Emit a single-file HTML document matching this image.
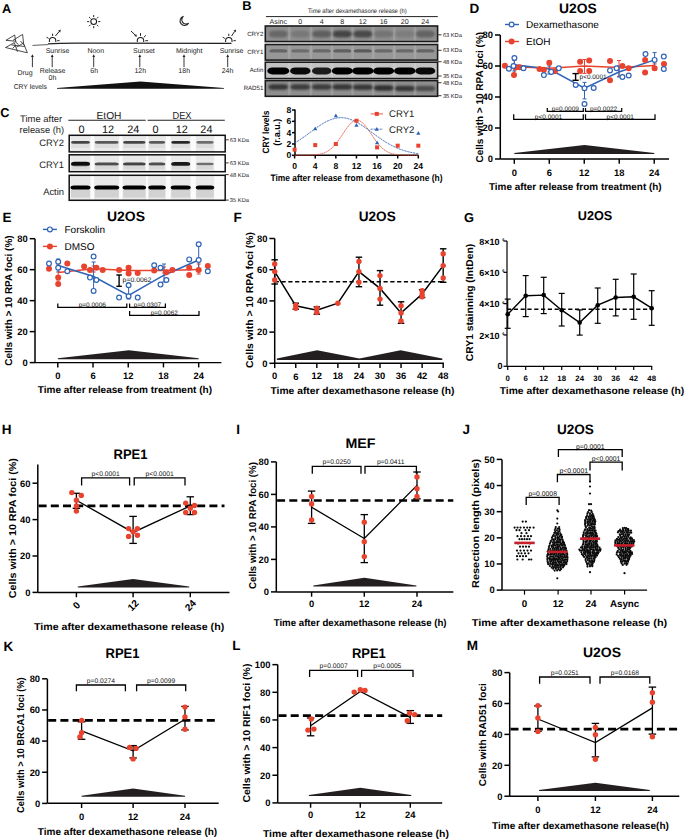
<!DOCTYPE html>
<html><head><meta charset="utf-8"><style>
html,body{margin:0;padding:0;background:#fff;width:685px;height:840px;overflow:hidden}
svg{display:block}
text{font-family:"Liberation Sans", sans-serif;text-rendering:geometricPrecision}
</style></head><body>
<svg width="685" height="840" viewBox="0 0 685 840">
<g stroke="none" fill="#000"><rect x="0" y="0" width="685" height="840" fill="#fff"/></g>
<text x="2.1" y="13.18" font-size="12.8" font-weight="bold">A</text>
<polyline points="5.9,40.3 14.7,35 15.6,41" fill="none" stroke="#2a2a2a" stroke-width="0.85" stroke-linejoin="round"/>
<polyline points="5.9,40.3 16.5,41.3" fill="none" stroke="#2a2a2a" stroke-width="0.85" stroke-linejoin="round"/>
<polyline points="13,40.3 22.6,34.4 23.6,43.5 27.4,52.8" fill="none" stroke="#2a2a2a" stroke-width="0.85" stroke-linejoin="round"/>
<polyline points="5.5,47.5 14.3,42.7 17.5,51.8" fill="none" stroke="#2a2a2a" stroke-width="0.85" stroke-linejoin="round"/>
<polyline points="5.5,47.5 27.4,52.8" fill="none" stroke="#2a2a2a" stroke-width="0.85" stroke-linejoin="round"/>
<polyline points="11.5,45 24.8,46.5" fill="none" stroke="#2a2a2a" stroke-width="0.85" stroke-linejoin="round"/>
<polyline points="16.5,47.2 23.8,42.8" fill="none" stroke="#2a2a2a" stroke-width="0.85" stroke-linejoin="round"/>
<polyline points="15,41.5 18.5,44.5" fill="none" stroke="#2a2a2a" stroke-width="0.85" stroke-linejoin="round"/>
<polyline points="20.5,41 24.5,45.5" fill="none" stroke="#2a2a2a" stroke-width="0.85" stroke-linejoin="round"/>
<polyline points="12.5,48.5 15.5,45.5" fill="none" stroke="#2a2a2a" stroke-width="0.85" stroke-linejoin="round"/>
<path d="M32.5,45.4 L48,44.6" fill="none" stroke="#333" stroke-width="0.8"/>
<path d="M48,43.9 Q60,43.1 80,43.2 L231.5,43.3" fill="none" stroke="#222" stroke-width="1.2"/>
<path d="M49.4,42 L49.4,40.7 A3.2,3.2 0 0 1 55.8,40.7 L55.8,42" fill="none" stroke="#1a1a1a" stroke-width="1.05"/>
<line x1="48.62" y1="38.4" x2="46.54" y2="37.2" stroke="#222" stroke-width="1"/>
<line x1="52.6" y1="36.1" x2="52.6" y2="33.7" stroke="#222" stroke-width="1"/>
<line x1="57.2" y1="40.7" x2="59.6" y2="40.7" stroke="#222" stroke-width="1"/>
<line x1="55.4" y1="36" x2="59.12" y2="31.59" stroke="#222" stroke-width="1"/>
<polygon points="60.8,29.6 60.19,32.49 58.05,30.68" fill="#222"/>
<path d="M137.3,42 L137.3,40.7 A3.2,3.2 0 0 1 143.7,40.7 L143.7,42" fill="none" stroke="#1a1a1a" stroke-width="1.05"/>
<line x1="140.5" y1="35.9" x2="140.5" y2="33.1" stroke="#222" stroke-width="1"/>
<line x1="143.89" y1="37.31" x2="145.87" y2="35.33" stroke="#222" stroke-width="1"/>
<line x1="145.3" y1="40.7" x2="148.1" y2="40.7" stroke="#222" stroke-width="1"/>
<line x1="131" y1="31" x2="135.13" y2="34.99" stroke="#222" stroke-width="1"/>
<polygon points="137,36.8 134.16,36 136.1,33.99" fill="#222"/>
<path d="M225.6,42 L225.6,40.7 A3.2,3.2 0 0 1 232,40.7 L232,42" fill="none" stroke="#1a1a1a" stroke-width="1.05"/>
<line x1="224.82" y1="38.4" x2="222.74" y2="37.2" stroke="#222" stroke-width="1"/>
<line x1="228.8" y1="36.1" x2="228.8" y2="33.7" stroke="#222" stroke-width="1"/>
<line x1="233.4" y1="40.7" x2="235.8" y2="40.7" stroke="#222" stroke-width="1"/>
<line x1="231.6" y1="36" x2="234.56" y2="31.56" stroke="#222" stroke-width="1"/>
<polygon points="236,29.4 235.72,32.34 233.39,30.79" fill="#222"/>
<circle cx="93.7" cy="21.6" r="2.9" fill="none" stroke="#1a1a1a" stroke-width="1.05"/>
<line x1="98.2" y1="21.6" x2="100.3" y2="21.6" stroke="#222" stroke-width="1"/>
<line x1="96.88" y1="18.42" x2="98.37" y2="16.93" stroke="#222" stroke-width="1"/>
<line x1="93.7" y1="17.1" x2="93.7" y2="15" stroke="#222" stroke-width="1"/>
<line x1="90.52" y1="18.42" x2="89.03" y2="16.93" stroke="#222" stroke-width="1"/>
<line x1="89.2" y1="21.6" x2="87.1" y2="21.6" stroke="#222" stroke-width="1"/>
<line x1="90.52" y1="24.78" x2="89.03" y2="26.27" stroke="#222" stroke-width="1"/>
<line x1="93.7" y1="26.1" x2="93.7" y2="28.2" stroke="#222" stroke-width="1"/>
<line x1="96.88" y1="24.78" x2="98.37" y2="26.27" stroke="#222" stroke-width="1"/>
<path d="M183.5,16.4 A4.6,4.6 0 1 0 188.6,23.2 A3.6,3.6 0 0 1 183.5,16.4 Z" fill="none" stroke="#222" stroke-width="1.1"/>
<text x="57.5" y="53.21" font-size="7" text-anchor="middle" fill="#1c1c1c">Sunrise</text>
<text x="95.8" y="53.21" font-size="7" text-anchor="middle" fill="#1c1c1c">Noon</text>
<text x="143.9" y="53.21" font-size="7" text-anchor="middle" fill="#1c1c1c">Sunset</text>
<text x="189.2" y="53.21" font-size="7" text-anchor="middle" fill="#1c1c1c">Midnight</text>
<text x="231.5" y="53.21" font-size="7" text-anchor="middle" fill="#1c1c1c">Sunrise</text>
<line x1="32.4" y1="67.2" x2="32.4" y2="56.5" stroke="#222" stroke-width="0.9"/>
<polygon points="32.4,54.3 31,57.1 33.8,57.1" fill="#222"/>
<line x1="52.2" y1="67.2" x2="52.2" y2="56.5" stroke="#222" stroke-width="0.9"/>
<polygon points="52.2,54.3 50.8,57.1 53.6,57.1" fill="#222"/>
<line x1="93.7" y1="67.2" x2="93.7" y2="56.5" stroke="#222" stroke-width="0.9"/>
<polygon points="93.7,54.3 92.3,57.1 95.1,57.1" fill="#222"/>
<line x1="139.8" y1="67.2" x2="139.8" y2="56.5" stroke="#222" stroke-width="0.9"/>
<polygon points="139.8,54.3 138.4,57.1 141.2,57.1" fill="#222"/>
<line x1="184" y1="67.2" x2="184" y2="56.5" stroke="#222" stroke-width="0.9"/>
<polygon points="184,54.3 182.6,57.1 185.4,57.1" fill="#222"/>
<line x1="227.7" y1="67.2" x2="227.7" y2="56.5" stroke="#222" stroke-width="0.9"/>
<polygon points="227.7,54.3 226.3,57.1 229.1,57.1" fill="#222"/>
<text x="25" y="75.41" font-size="7" text-anchor="middle" fill="#1c1c1c">Drug</text>
<text x="52.5" y="72.71" font-size="7" text-anchor="middle" fill="#1c1c1c">Release</text>
<text x="52.5" y="80.31" font-size="7" text-anchor="middle" fill="#1c1c1c">0h</text>
<text x="94.2" y="72.61" font-size="7" text-anchor="middle" fill="#1c1c1c">6h</text>
<text x="140.3" y="72.61" font-size="7" text-anchor="middle" fill="#1c1c1c">12h</text>
<text x="184.2" y="72.61" font-size="7" text-anchor="middle" fill="#1c1c1c">18h</text>
<text x="227.5" y="72.61" font-size="7" text-anchor="middle" fill="#1c1c1c">24h</text>
<text x="13.7" y="88.81" font-size="7" textLength="33.3" lengthAdjust="spacingAndGlyphs" fill="#1c1c1c">CRY levels</text>
<polygon points="57,88 140.4,81.6 223.9,88 223.9,88.8 57,88.8" fill="#111"/>
<defs><filter id="b1" x="-50%" y="-100%" width="200%" height="300%"><feGaussianBlur stdDeviation="1.1"/></filter><filter id="b2" x="-50%" y="-100%" width="200%" height="300%"><feGaussianBlur stdDeviation="0.7"/></filter><filter id="b3" x="-50%" y="-100%" width="200%" height="300%"><feGaussianBlur stdDeviation="0.45"/></filter></defs>
<text x="242.3" y="10.18" font-size="12.8" font-weight="bold">B</text>
<text x="357.3" y="12.89" font-size="6.4" text-anchor="middle" textLength="98.6" lengthAdjust="spacingAndGlyphs" fill="#1c1c1c">Time after dexamethasone release (h)</text>
<line x1="266" y1="16.6" x2="437.8" y2="16.6" stroke="#222" stroke-width="1"/>
<text x="278.3" y="23.84" font-size="7.1" text-anchor="middle" fill="#1c1c1c">Asinc</text>
<text x="300.3" y="23.84" font-size="7.1" text-anchor="middle" fill="#1c1c1c">0</text>
<text x="321.7" y="23.84" font-size="7.1" text-anchor="middle" fill="#1c1c1c">4</text>
<text x="342.3" y="23.84" font-size="7.1" text-anchor="middle" fill="#1c1c1c">8</text>
<text x="362.8" y="23.84" font-size="7.1" text-anchor="middle" fill="#1c1c1c">12</text>
<text x="383.6" y="23.84" font-size="7.1" text-anchor="middle" fill="#1c1c1c">16</text>
<text x="404.8" y="23.84" font-size="7.1" text-anchor="middle" fill="#1c1c1c">20</text>
<text x="425.3" y="23.84" font-size="7.1" text-anchor="middle" fill="#1c1c1c">24</text>
<rect x="265.3" y="26" width="172.3" height="15.6" fill="#8f8f8f"/>
<rect x="288.1" y="26" width="2.4" height="15.6" fill="#fff" opacity="0.12" filter="url(#b2)"/>
<rect x="309.8" y="26" width="2.4" height="15.6" fill="#fff" opacity="0.12" filter="url(#b2)"/>
<rect x="330.8" y="26" width="2.4" height="15.6" fill="#fff" opacity="0.12" filter="url(#b2)"/>
<rect x="351.35" y="26" width="2.4" height="15.6" fill="#fff" opacity="0.12" filter="url(#b2)"/>
<rect x="372" y="26" width="2.4" height="15.6" fill="#fff" opacity="0.12" filter="url(#b2)"/>
<rect x="393" y="26" width="2.4" height="15.6" fill="#fff" opacity="0.12" filter="url(#b2)"/>
<rect x="413.85" y="26" width="2.4" height="15.6" fill="#fff" opacity="0.12" filter="url(#b2)"/>
<rect x="265.3" y="44.5" width="172.3" height="15.6" fill="#979797"/>
<rect x="288.1" y="44.5" width="2.4" height="15.6" fill="#fff" opacity="0.12" filter="url(#b2)"/>
<rect x="309.8" y="44.5" width="2.4" height="15.6" fill="#fff" opacity="0.12" filter="url(#b2)"/>
<rect x="330.8" y="44.5" width="2.4" height="15.6" fill="#fff" opacity="0.12" filter="url(#b2)"/>
<rect x="351.35" y="44.5" width="2.4" height="15.6" fill="#fff" opacity="0.12" filter="url(#b2)"/>
<rect x="372" y="44.5" width="2.4" height="15.6" fill="#fff" opacity="0.12" filter="url(#b2)"/>
<rect x="393" y="44.5" width="2.4" height="15.6" fill="#fff" opacity="0.12" filter="url(#b2)"/>
<rect x="413.85" y="44.5" width="2.4" height="15.6" fill="#fff" opacity="0.12" filter="url(#b2)"/>
<rect x="265.3" y="62.2" width="172.3" height="16.4" fill="#c2c2c2"/>
<rect x="288.1" y="62.2" width="2.4" height="16.4" fill="#fff" opacity="0.12" filter="url(#b2)"/>
<rect x="309.8" y="62.2" width="2.4" height="16.4" fill="#fff" opacity="0.12" filter="url(#b2)"/>
<rect x="330.8" y="62.2" width="2.4" height="16.4" fill="#fff" opacity="0.12" filter="url(#b2)"/>
<rect x="351.35" y="62.2" width="2.4" height="16.4" fill="#fff" opacity="0.12" filter="url(#b2)"/>
<rect x="372" y="62.2" width="2.4" height="16.4" fill="#fff" opacity="0.12" filter="url(#b2)"/>
<rect x="393" y="62.2" width="2.4" height="16.4" fill="#fff" opacity="0.12" filter="url(#b2)"/>
<rect x="413.85" y="62.2" width="2.4" height="16.4" fill="#fff" opacity="0.12" filter="url(#b2)"/>
<rect x="265.3" y="80.6" width="172.3" height="15.7" fill="#8e8e8e"/>
<rect x="288.1" y="80.6" width="2.4" height="15.7" fill="#fff" opacity="0.12" filter="url(#b2)"/>
<rect x="309.8" y="80.6" width="2.4" height="15.7" fill="#fff" opacity="0.12" filter="url(#b2)"/>
<rect x="330.8" y="80.6" width="2.4" height="15.7" fill="#fff" opacity="0.12" filter="url(#b2)"/>
<rect x="351.35" y="80.6" width="2.4" height="15.7" fill="#fff" opacity="0.12" filter="url(#b2)"/>
<rect x="372" y="80.6" width="2.4" height="15.7" fill="#fff" opacity="0.12" filter="url(#b2)"/>
<rect x="393" y="80.6" width="2.4" height="15.7" fill="#fff" opacity="0.12" filter="url(#b2)"/>
<rect x="413.85" y="80.6" width="2.4" height="15.7" fill="#fff" opacity="0.12" filter="url(#b2)"/>
<rect x="268.8" y="30.5" width="19" height="7" rx="5" fill="#383838" opacity="0.45" filter="url(#b1)"/>
<rect x="290.8" y="30.5" width="19" height="7" rx="5" fill="#383838" opacity="0.25" filter="url(#b1)"/>
<rect x="312.2" y="30.5" width="19" height="7" rx="5" fill="#383838" opacity="0.55" filter="url(#b1)"/>
<rect x="332.8" y="30.5" width="19" height="7" rx="5" fill="#383838" opacity="0.85" filter="url(#b1)"/>
<rect x="353.3" y="30.5" width="19" height="7" rx="5" fill="#383838" opacity="0.8" filter="url(#b1)"/>
<rect x="374.1" y="30.5" width="19" height="7" rx="5" fill="#383838" opacity="0.3" filter="url(#b1)"/>
<rect x="395.3" y="30.5" width="19" height="7" rx="5" fill="#383838" opacity="0.2" filter="url(#b1)"/>
<rect x="415.8" y="30.5" width="19" height="7" rx="5" fill="#383838" opacity="0.5" filter="url(#b1)"/>
<rect x="269.3" y="49.2" width="18" height="3.4" rx="3.2" fill="#3d3d3d" opacity="0.55" filter="url(#b2)"/>
<rect x="291.3" y="49.2" width="18" height="3.4" rx="3.2" fill="#3d3d3d" opacity="0.45" filter="url(#b2)"/>
<rect x="312.7" y="49.2" width="18" height="3.4" rx="3.2" fill="#3d3d3d" opacity="0.5" filter="url(#b2)"/>
<rect x="333.3" y="49.2" width="18" height="3.4" rx="3.2" fill="#3d3d3d" opacity="0.6" filter="url(#b2)"/>
<rect x="353.8" y="49.2" width="18" height="3.4" rx="3.2" fill="#3d3d3d" opacity="0.65" filter="url(#b2)"/>
<rect x="374.6" y="49.2" width="18" height="3.4" rx="3.2" fill="#3d3d3d" opacity="0.5" filter="url(#b2)"/>
<rect x="395.8" y="49.2" width="18" height="3.4" rx="3.2" fill="#3d3d3d" opacity="0.5" filter="url(#b2)"/>
<rect x="416.3" y="49.2" width="18" height="3.4" rx="3.2" fill="#3d3d3d" opacity="0.55" filter="url(#b2)"/>
<rect x="267.3" y="67.4" width="22" height="7" rx="5" fill="#050505" opacity="1" filter="url(#b2)"/>
<rect x="290.05" y="67.4" width="20.5" height="7" rx="5" fill="#050505" opacity="0.95" filter="url(#b2)"/>
<rect x="311.95" y="67.4" width="19.5" height="7" rx="5" fill="#050505" opacity="0.85" filter="url(#b2)"/>
<rect x="331.8" y="67.4" width="21" height="7" rx="5" fill="#050505" opacity="1" filter="url(#b2)"/>
<rect x="352.05" y="67.4" width="21.5" height="7" rx="5" fill="#050505" opacity="1" filter="url(#b2)"/>
<rect x="373.1" y="67.4" width="21" height="7" rx="5" fill="#050505" opacity="1" filter="url(#b2)"/>
<rect x="394.05" y="67.4" width="21.5" height="7" rx="5" fill="#050505" opacity="1" filter="url(#b2)"/>
<rect x="415.3" y="67.4" width="20" height="7" rx="5" fill="#050505" opacity="0.95" filter="url(#b2)"/>
<rect x="268.55" y="84.25" width="19.5" height="5.5" rx="4.25" fill="#202020" opacity="0.8" filter="url(#b1)"/>
<rect x="290.55" y="84.25" width="19.5" height="5.5" rx="4.25" fill="#202020" opacity="0.75" filter="url(#b1)"/>
<rect x="311.95" y="84.25" width="19.5" height="5.5" rx="4.25" fill="#202020" opacity="0.75" filter="url(#b1)"/>
<rect x="332.55" y="84.25" width="19.5" height="5.5" rx="4.25" fill="#202020" opacity="0.8" filter="url(#b1)"/>
<rect x="353.05" y="84.55" width="19.5" height="5.5" rx="4.25" fill="#202020" opacity="0.8" filter="url(#b1)"/>
<rect x="373.85" y="85.25" width="19.5" height="5.5" rx="4.25" fill="#202020" opacity="0.85" filter="url(#b1)"/>
<rect x="395.05" y="85.75" width="19.5" height="5.5" rx="4.25" fill="#202020" opacity="0.8" filter="url(#b1)"/>
<rect x="415.55" y="85.75" width="19.5" height="5.5" rx="4.25" fill="#202020" opacity="0.6" filter="url(#b1)"/>
<rect x="265.3" y="26" width="172.3" height="15.6" fill="none" stroke="#1a1a1a" stroke-width="1.6"/>
<rect x="265.3" y="44.5" width="172.3" height="15.6" fill="none" stroke="#1a1a1a" stroke-width="1.6"/>
<rect x="265.3" y="62.2" width="172.3" height="16.4" fill="none" stroke="#1a1a1a" stroke-width="1.6"/>
<rect x="265.3" y="80.6" width="172.3" height="15.7" fill="none" stroke="#1a1a1a" stroke-width="1.6"/>
<line x1="437.6" y1="34.8" x2="441.5" y2="34.8" stroke="#222" stroke-width="0.9"/>
<text x="442.9" y="36.84" font-size="5.7" textLength="19" lengthAdjust="spacingAndGlyphs" fill="#1c1c1c">63 KDa</text>
<line x1="437.6" y1="50.3" x2="441.5" y2="50.3" stroke="#222" stroke-width="0.9"/>
<text x="442.9" y="52.34" font-size="5.7" textLength="19" lengthAdjust="spacingAndGlyphs" fill="#1c1c1c">63 KDa</text>
<line x1="437.6" y1="61.7" x2="441.5" y2="61.7" stroke="#222" stroke-width="0.9"/>
<text x="442.9" y="63.74" font-size="5.7" textLength="19" lengthAdjust="spacingAndGlyphs" fill="#1c1c1c">48 KDa</text>
<line x1="437.6" y1="76" x2="441.5" y2="76" stroke="#222" stroke-width="0.9"/>
<text x="442.9" y="78.04" font-size="5.7" textLength="19" lengthAdjust="spacingAndGlyphs" fill="#1c1c1c">35 KDa</text>
<line x1="437.6" y1="82.7" x2="441.5" y2="82.7" stroke="#222" stroke-width="0.9"/>
<text x="442.9" y="84.74" font-size="5.7" textLength="19" lengthAdjust="spacingAndGlyphs" fill="#1c1c1c">48 KDa</text>
<line x1="437.6" y1="95.7" x2="441.5" y2="95.7" stroke="#222" stroke-width="0.9"/>
<text x="442.9" y="97.74" font-size="5.7" textLength="19" lengthAdjust="spacingAndGlyphs" fill="#1c1c1c">35 KDa</text>
<text x="263.3" y="36.38" font-size="6.1" text-anchor="end" fill="#1c1c1c">CRY2</text>
<text x="263.3" y="54.18" font-size="6.1" text-anchor="end" fill="#1c1c1c">CRY1</text>
<text x="263.3" y="72.18" font-size="6.1" text-anchor="end" fill="#1c1c1c">Actin</text>
<text x="263.3" y="89.78" font-size="6.1" text-anchor="end" fill="#1c1c1c">RAD51</text>
<line x1="295" y1="109.5" x2="295" y2="155.3" stroke="#000" stroke-width="1.5"/>
<line x1="292" y1="155.3" x2="295" y2="155.3" stroke="#000" stroke-width="1.5"/>
<text x="291.3" y="158.38" font-size="8.6" font-weight="bold" text-anchor="end">0</text>
<line x1="292" y1="143.98" x2="295" y2="143.98" stroke="#000" stroke-width="1.5"/>
<text x="291.3" y="147.06" font-size="8.6" font-weight="bold" text-anchor="end">2</text>
<line x1="292" y1="132.66" x2="295" y2="132.66" stroke="#000" stroke-width="1.5"/>
<text x="291.3" y="135.74" font-size="8.6" font-weight="bold" text-anchor="end">4</text>
<line x1="292" y1="121.34" x2="295" y2="121.34" stroke="#000" stroke-width="1.5"/>
<text x="291.3" y="124.42" font-size="8.6" font-weight="bold" text-anchor="end">6</text>
<line x1="292" y1="110.02" x2="295" y2="110.02" stroke="#000" stroke-width="1.5"/>
<text x="291.3" y="113.1" font-size="8.6" font-weight="bold" text-anchor="end">8</text>
<line x1="295" y1="155.3" x2="418.5" y2="155.3" stroke="#000" stroke-width="1.5"/>
<line x1="294.6" y1="155.3" x2="294.6" y2="158.5" stroke="#000" stroke-width="1.5"/>
<text x="294.6" y="169.28" font-size="8.6" font-weight="bold" text-anchor="middle">0</text>
<line x1="315.22" y1="155.3" x2="315.22" y2="158.5" stroke="#000" stroke-width="1.5"/>
<text x="315.22" y="169.28" font-size="8.6" font-weight="bold" text-anchor="middle">4</text>
<line x1="335.84" y1="155.3" x2="335.84" y2="158.5" stroke="#000" stroke-width="1.5"/>
<text x="335.84" y="169.28" font-size="8.6" font-weight="bold" text-anchor="middle">8</text>
<line x1="356.46" y1="155.3" x2="356.46" y2="158.5" stroke="#000" stroke-width="1.5"/>
<text x="356.46" y="169.28" font-size="8.6" font-weight="bold" text-anchor="middle">12</text>
<line x1="377.08" y1="155.3" x2="377.08" y2="158.5" stroke="#000" stroke-width="1.5"/>
<text x="377.08" y="169.28" font-size="8.6" font-weight="bold" text-anchor="middle">16</text>
<line x1="397.7" y1="155.3" x2="397.7" y2="158.5" stroke="#000" stroke-width="1.5"/>
<text x="397.7" y="169.28" font-size="8.6" font-weight="bold" text-anchor="middle">20</text>
<line x1="418.32" y1="155.3" x2="418.32" y2="158.5" stroke="#000" stroke-width="1.5"/>
<text x="418.32" y="169.28" font-size="8.6" font-weight="bold" text-anchor="middle">24</text>
<text x="356.45" y="180.63" font-size="9.3" font-weight="bold" text-anchor="middle" textLength="172.1" lengthAdjust="spacingAndGlyphs">Time after release from dexamethasone (h)</text>
<text x="265.5" y="135.33" font-size="9.3" font-weight="bold" text-anchor="middle" textLength="43" lengthAdjust="spacingAndGlyphs" transform="rotate(-90 265.5 132)">CRY levels</text>
<text x="276.2" y="135.53" font-size="9.3" font-weight="bold" text-anchor="middle" textLength="27" lengthAdjust="spacingAndGlyphs" transform="rotate(-90 276.2 132.2)">(r.a.u.)</text>
<polyline points="294.6,155.3 295.12,155.3 295.63,155.3 296.15,155.3 296.66,155.3 297.18,155.3 297.69,155.29 298.21,155.29 298.72,155.29 299.24,155.29 299.75,155.29 300.27,155.29 300.79,155.29 301.3,155.28 301.82,155.28 302.33,155.28 302.85,155.28 303.36,155.27 303.88,155.27 304.39,155.26 304.91,155.26 305.43,155.25 305.94,155.25 306.46,155.24 306.97,155.23 307.49,155.22 308,155.21 308.52,155.2 309.03,155.18 309.55,155.17 310.06,155.15 310.58,155.13 311.1,155.11 311.61,155.09 312.13,155.06 312.64,155.04 313.16,155 313.67,154.97 314.19,154.93 314.7,154.89 315.22,154.84 315.74,154.79 316.25,154.73 316.77,154.67 317.28,154.6 317.8,154.53 318.31,154.45 318.83,154.36 319.34,154.26 319.86,154.16 320.38,154.05 320.89,153.93 321.41,153.79 321.92,153.65 322.44,153.5 322.95,153.33 323.47,153.15 323.98,152.96 324.5,152.76 325.01,152.54 325.53,152.3 326.05,152.05 326.56,151.79 327.08,151.5 327.59,151.2 328.11,150.89 328.62,150.55 329.14,150.2 329.65,149.82 330.17,149.43 330.69,149.01 331.2,148.58 331.72,148.13 332.23,147.65 332.75,147.15 333.26,146.64 333.78,146.1 334.29,145.54 334.81,144.97 335.32,144.37 335.84,143.75 336.36,143.12 336.87,142.46 337.39,141.79 337.9,141.11 338.42,140.4 338.93,139.69 339.45,138.96 339.96,138.22 340.48,137.47 341,136.71 341.51,135.95 342.03,135.18 342.54,134.4 343.06,133.63 343.57,132.86 344.09,132.09 344.6,131.32 345.12,130.56 345.63,129.82 346.15,129.08 346.67,128.36 347.18,127.66 347.7,126.97 348.21,126.31 348.73,125.67 349.24,125.06 349.76,124.47 350.27,123.92 350.79,123.39 351.31,122.91 351.82,122.45 352.34,122.04 352.85,121.66 353.37,121.33 353.88,121.03 354.4,120.78 354.91,120.58 355.43,120.42 355.94,120.3 356.46,120.23 356.98,120.21 357.49,120.23 358.01,120.3 358.52,120.42 359.04,120.58 359.55,120.78 360.07,121.03 360.58,121.33 361.1,121.66 361.62,122.04 362.13,122.45 362.65,122.91 363.16,123.39 363.68,123.92 364.19,124.47 364.71,125.06 365.22,125.67 365.74,126.31 366.25,126.97 366.77,127.66 367.29,128.36 367.8,129.08 368.32,129.82 368.83,130.56 369.35,131.32 369.86,132.09 370.38,132.86 370.89,133.63 371.41,134.4 371.93,135.18 372.44,135.95 372.96,136.71 373.47,137.47 373.99,138.22 374.5,138.96 375.02,139.69 375.53,140.4 376.05,141.11 376.56,141.79 377.08,142.46 377.6,143.12 378.11,143.75 378.63,144.37 379.14,144.97 379.66,145.54 380.17,146.1 380.69,146.64 381.2,147.15 381.72,147.65 382.24,148.13 382.75,148.58 383.27,149.01 383.78,149.43 384.3,149.82 384.81,150.2 385.33,150.55 385.84,150.89 386.36,151.2 386.87,151.5 387.39,151.79 387.91,152.05 388.42,152.3 388.94,152.54 389.45,152.76 389.97,152.96 390.48,153.15 391,153.33 391.51,153.5 392.03,153.65 392.55,153.79 393.06,153.93 393.58,154.05 394.09,154.16 394.61,154.26 395.12,154.36 395.64,154.45 396.15,154.53 396.67,154.6 397.18,154.67 397.7,154.73 398.22,154.79 398.73,154.84 399.25,154.89 399.76,154.93 400.28,154.97 400.79,155 401.31,155.04 401.82,155.06 402.34,155.09 402.86,155.11 403.37,155.13 403.89,155.15 404.4,155.17 404.92,155.18 405.43,155.2 405.95,155.21 406.46,155.22 406.98,155.23 407.49,155.24 408.01,155.25 408.53,155.25 409.04,155.26 409.56,155.26 410.07,155.27 410.59,155.27 411.1,155.28 411.62,155.28 412.13,155.28 412.65,155.28 413.17,155.29 413.68,155.29 414.2,155.29 414.71,155.29 415.23,155.29 415.74,155.29 416.26,155.29 416.77,155.3 417.29,155.3 417.8,155.3 418.32,155.3" fill="none" stroke="#e8432e" stroke-width="0.85" stroke-dasharray="1.6,0.5"/>
<polyline points="294.6,143.08 295.12,142.77 295.63,142.46 296.15,142.15 296.66,141.83 297.18,141.5 297.69,141.17 298.21,140.84 298.72,140.51 299.24,140.17 299.75,139.83 300.27,139.48 300.79,139.13 301.3,138.78 301.82,138.43 302.33,138.07 302.85,137.71 303.36,137.34 303.88,136.98 304.39,136.61 304.91,136.24 305.43,135.87 305.94,135.5 306.46,135.12 306.97,134.75 307.49,134.37 308,133.99 308.52,133.61 309.03,133.23 309.55,132.85 310.06,132.47 310.58,132.09 311.1,131.71 311.61,131.33 312.13,130.95 312.64,130.57 313.16,130.2 313.67,129.82 314.19,129.45 314.7,129.07 315.22,128.7 315.74,128.33 316.25,127.97 316.77,127.61 317.28,127.25 317.8,126.89 318.31,126.54 318.83,126.19 319.34,125.84 319.86,125.5 320.38,125.16 320.89,124.83 321.41,124.5 321.92,124.18 322.44,123.86 322.95,123.55 323.47,123.24 323.98,122.94 324.5,122.65 325.01,122.36 325.53,122.08 326.05,121.81 326.56,121.54 327.08,121.29 327.59,121.03 328.11,120.79 328.62,120.55 329.14,120.33 329.65,120.11 330.17,119.9 330.69,119.7 331.2,119.5 331.72,119.32 332.23,119.14 332.75,118.98 333.26,118.82 333.78,118.67 334.29,118.53 334.81,118.41 335.32,118.29 335.84,118.18 336.36,118.08 336.87,117.99 337.39,117.92 337.9,117.85 338.42,117.79 338.93,117.74 339.45,117.71 339.96,117.68 340.48,117.67 341,117.66 341.51,117.67 342.03,117.68 342.54,117.71 343.06,117.74 343.57,117.79 344.09,117.85 344.6,117.92 345.12,117.99 345.63,118.08 346.15,118.18 346.67,118.29 347.18,118.41 347.7,118.53 348.21,118.67 348.73,118.82 349.24,118.98 349.76,119.14 350.27,119.32 350.79,119.5 351.31,119.7 351.82,119.9 352.34,120.11 352.85,120.33 353.37,120.55 353.88,120.79 354.4,121.03 354.91,121.29 355.43,121.54 355.94,121.81 356.46,122.08 356.98,122.36 357.49,122.65 358.01,122.94 358.52,123.24 359.04,123.55 359.55,123.86 360.07,124.18 360.58,124.5 361.1,124.83 361.62,125.16 362.13,125.5 362.65,125.84 363.16,126.19 363.68,126.54 364.19,126.89 364.71,127.25 365.22,127.61 365.74,127.97 366.25,128.33 366.77,128.7 367.29,129.07 367.8,129.45 368.32,129.82 368.83,130.2 369.35,130.57 369.86,130.95 370.38,131.33 370.89,131.71 371.41,132.09 371.93,132.47 372.44,132.85 372.96,133.23 373.47,133.61 373.99,133.99 374.5,134.37 375.02,134.75 375.53,135.12 376.05,135.5 376.56,135.87 377.08,136.24 377.6,136.61 378.11,136.98 378.63,137.34 379.14,137.71 379.66,138.07 380.17,138.43 380.69,138.78 381.2,139.13 381.72,139.48 382.24,139.83 382.75,140.17 383.27,140.51 383.78,140.84 384.3,141.17 384.81,141.5 385.33,141.83 385.84,142.15 386.36,142.46 386.87,142.77 387.39,143.08 387.91,143.38 388.42,143.68 388.94,143.98 389.45,144.27 389.97,144.55 390.48,144.83 391,145.11 391.51,145.38 392.03,145.65 392.55,145.91 393.06,146.17 393.58,146.43 394.09,146.68 394.61,146.92 395.12,147.16 395.64,147.4 396.15,147.63 396.67,147.85 397.18,148.07 397.7,148.29 398.22,148.5 398.73,148.71 399.25,148.91 399.76,149.11 400.28,149.3 400.79,149.49 401.31,149.68 401.82,149.86 402.34,150.03 402.86,150.21 403.37,150.37 403.89,150.54 404.4,150.7 404.92,150.85 405.43,151 405.95,151.15 406.46,151.29 406.98,151.43 407.49,151.57 408.01,151.7 408.53,151.83 409.04,151.95 409.56,152.07 410.07,152.19 410.59,152.31 411.1,152.42 411.62,152.52 412.13,152.63 412.65,152.73 413.17,152.83 413.68,152.92 414.2,153.01 414.71,153.1 415.23,153.19 415.74,153.27 416.26,153.35 416.77,153.43 417.29,153.5 417.8,153.58 418.32,153.65" fill="none" stroke="#2f63b6" stroke-width="1.0" stroke-dasharray="2.2,0.8"/>
<rect x="292.6" y="147.64" width="4" height="4" fill="#e8432e"/>
<rect x="313.22" y="143.11" width="4" height="4" fill="#e8432e"/>
<rect x="333.84" y="141.98" width="4" height="4" fill="#e8432e"/>
<rect x="354.46" y="118.77" width="4" height="4" fill="#e8432e"/>
<rect x="375.08" y="145.38" width="4" height="4" fill="#e8432e"/>
<rect x="395.7" y="143.68" width="4" height="4" fill="#e8432e"/>
<rect x="416.32" y="143.68" width="4" height="4" fill="#e8432e"/>
<polygon points="315.22,126.4 313.12,130.2 317.32,130.2" fill="#2f63b6"/>
<polygon points="335.84,113.38 333.74,117.18 337.94,117.18" fill="#2f63b6"/>
<polygon points="356.46,123 354.36,126.8 358.56,126.8" fill="#2f63b6"/>
<polygon points="377.08,140.55 374.98,144.35 379.18,144.35" fill="#2f63b6"/>
<polygon points="418.32,130.93 416.22,134.73 420.42,134.73" fill="#2f63b6"/>
<line x1="370.7" y1="113.9" x2="383" y2="113.9" stroke="#e8432e" stroke-width="0.9"/>
<rect x="374.8" y="111.9" width="4" height="4" fill="#e8432e"/>
<text x="389" y="117.34" font-size="9.6" fill="#222">CRY1</text>
<line x1="370.7" y1="129.2" x2="383" y2="129.2" stroke="#2f63b6" stroke-width="0.9" stroke-dasharray="2,1"/>
<polygon points="376.8,126.9 374.7,130.7 378.9,130.7" fill="#2f63b6"/>
<text x="389" y="132.64" font-size="9.6" fill="#222">CRY2</text>
<text x="0.3" y="117.08" font-size="12.8" font-weight="bold">C</text>
<text x="20" y="121.77" font-size="9.4" textLength="42.2" lengthAdjust="spacingAndGlyphs" fill="#1c1c1c">Time after</text>
<text x="19.6" y="132.57" font-size="9.4" textLength="44.4" lengthAdjust="spacingAndGlyphs" fill="#1c1c1c">release (h)</text>
<line x1="68.3" y1="120.2" x2="145.7" y2="120.2" stroke="#222" stroke-width="1.1"/>
<line x1="147.6" y1="120.2" x2="224.8" y2="120.2" stroke="#222" stroke-width="1.1"/>
<text x="109" y="118.55" font-size="10.2" text-anchor="middle" fill="#1c1c1c">EtOH</text>
<text x="182" y="118.55" font-size="10.2" text-anchor="middle" textLength="19" lengthAdjust="spacingAndGlyphs" fill="#1c1c1c">DEX</text>
<text x="81.5" y="132.8" font-size="10.9" text-anchor="middle" fill="#111">0</text>
<text x="108.1" y="132.8" font-size="10.9" text-anchor="middle" fill="#111">12</text>
<text x="133.2" y="132.8" font-size="10.9" text-anchor="middle" fill="#111">24</text>
<text x="155.5" y="132.8" font-size="10.9" text-anchor="middle" fill="#111">0</text>
<text x="181.7" y="132.8" font-size="10.9" text-anchor="middle" fill="#111">12</text>
<text x="206.4" y="132.8" font-size="10.9" text-anchor="middle" fill="#111">24</text>
<rect x="69.2" y="135.3" width="156" height="16.6" fill="#fbfbfb"/>
<rect x="70.5" y="135.3" width="20" height="16.6" fill="#e9e9e9" filter="url(#b3)"/>
<rect x="94.2" y="135.3" width="25" height="16.6" fill="#e9e9e9" filter="url(#b3)"/>
<rect x="122.55" y="135.3" width="23.5" height="16.6" fill="#e9e9e9" filter="url(#b3)"/>
<rect x="148.25" y="135.3" width="17.5" height="16.6" fill="#e9e9e9" filter="url(#b3)"/>
<rect x="170.7" y="135.3" width="20" height="16.6" fill="#e9e9e9" filter="url(#b3)"/>
<rect x="195.75" y="135.3" width="18.5" height="16.6" fill="#e9e9e9" filter="url(#b3)"/>
<rect x="69.2" y="154.8" width="156" height="16.9" fill="#fbfbfb"/>
<rect x="70.5" y="154.8" width="20" height="16.9" fill="#e9e9e9" filter="url(#b3)"/>
<rect x="94.2" y="154.8" width="25" height="16.9" fill="#e9e9e9" filter="url(#b3)"/>
<rect x="122.55" y="154.8" width="23.5" height="16.9" fill="#e9e9e9" filter="url(#b3)"/>
<rect x="148.25" y="154.8" width="17.5" height="16.9" fill="#e9e9e9" filter="url(#b3)"/>
<rect x="170.7" y="154.8" width="20" height="16.9" fill="#e9e9e9" filter="url(#b3)"/>
<rect x="195.75" y="154.8" width="18.5" height="16.9" fill="#e9e9e9" filter="url(#b3)"/>
<rect x="69.2" y="175.3" width="156" height="25" fill="#fbfbfb"/>
<rect x="70.5" y="175.3" width="20" height="25" fill="#e9e9e9" filter="url(#b3)"/>
<rect x="94.2" y="175.3" width="25" height="25" fill="#e9e9e9" filter="url(#b3)"/>
<rect x="122.55" y="175.3" width="23.5" height="25" fill="#e9e9e9" filter="url(#b3)"/>
<rect x="148.25" y="175.3" width="17.5" height="25" fill="#e9e9e9" filter="url(#b3)"/>
<rect x="170.7" y="175.3" width="20" height="25" fill="#e9e9e9" filter="url(#b3)"/>
<rect x="195.75" y="175.3" width="18.5" height="25" fill="#e9e9e9" filter="url(#b3)"/>
<rect x="71" y="141" width="19" height="2.8" rx="2.9" fill="#1a1a1a" opacity="0.8" filter="url(#b3)"/>
<rect x="71.5" y="144" width="18" height="4" fill="#d0d0d0" opacity="0.5" filter="url(#b2)"/>
<rect x="94.7" y="141" width="24" height="2.8" rx="2.9" fill="#1a1a1a" opacity="0.7" filter="url(#b3)"/>
<rect x="95.2" y="144" width="23" height="4" fill="#d0d0d0" opacity="0.5" filter="url(#b2)"/>
<rect x="123.05" y="141" width="22.5" height="2.8" rx="2.9" fill="#1a1a1a" opacity="0.8" filter="url(#b3)"/>
<rect x="123.55" y="144" width="21.5" height="4" fill="#d0d0d0" opacity="0.5" filter="url(#b2)"/>
<rect x="148.75" y="141" width="16.5" height="2.8" rx="2.9" fill="#1a1a1a" opacity="0.7" filter="url(#b3)"/>
<rect x="149.25" y="144" width="15.5" height="4" fill="#d0d0d0" opacity="0.5" filter="url(#b2)"/>
<rect x="171.2" y="141" width="19" height="2.8" rx="2.9" fill="#1a1a1a" opacity="0.95" filter="url(#b3)"/>
<rect x="171.7" y="144" width="18" height="4" fill="#d0d0d0" opacity="0.5" filter="url(#b2)"/>
<rect x="196.25" y="141" width="17.5" height="2.8" rx="2.9" fill="#1a1a1a" opacity="0.6" filter="url(#b3)"/>
<rect x="196.75" y="144" width="16.5" height="4" fill="#d0d0d0" opacity="0.5" filter="url(#b2)"/>
<rect x="71" y="161.8" width="19" height="4.4" rx="3.7" fill="#0a0a0a" opacity="1.0" filter="url(#b3)"/>
<rect x="71.5" y="165.5" width="18" height="4" fill="#c8c8c8" opacity="0.5" filter="url(#b2)"/>
<rect x="94.7" y="162.5" width="24" height="3" rx="3" fill="#0a0a0a" opacity="0.7" filter="url(#b3)"/>
<rect x="95.2" y="165.5" width="23" height="4" fill="#c8c8c8" opacity="0.5" filter="url(#b2)"/>
<rect x="123.05" y="162.5" width="22.5" height="3" rx="3" fill="#0a0a0a" opacity="0.75" filter="url(#b3)"/>
<rect x="123.55" y="165.5" width="21.5" height="4" fill="#c8c8c8" opacity="0.5" filter="url(#b2)"/>
<rect x="148.75" y="162.5" width="16.5" height="3" rx="3" fill="#0a0a0a" opacity="0.7" filter="url(#b3)"/>
<rect x="149.25" y="165.5" width="15.5" height="4" fill="#c8c8c8" opacity="0.5" filter="url(#b2)"/>
<rect x="171.2" y="162" width="19" height="4" rx="3.5" fill="#0a0a0a" opacity="0.95" filter="url(#b3)"/>
<rect x="171.7" y="165.5" width="18" height="4" fill="#c8c8c8" opacity="0.5" filter="url(#b2)"/>
<rect x="196.25" y="162.7" width="17.5" height="2.6" rx="2.8" fill="#0a0a0a" opacity="0.55" filter="url(#b3)"/>
<rect x="196.75" y="165.5" width="16.5" height="4" fill="#c8c8c8" opacity="0.5" filter="url(#b2)"/>
<rect x="71" y="189" width="19" height="8.5" fill="#c4c4c4" opacity="0.6" filter="url(#b2)"/>
<rect x="70.5" y="185.4" width="20" height="4" rx="3.5" fill="#000" opacity="1.0" filter="url(#b3)"/>
<rect x="94.7" y="189" width="24" height="8.5" fill="#c4c4c4" opacity="0.6" filter="url(#b2)"/>
<rect x="94.2" y="185.4" width="25" height="4" rx="3.5" fill="#000" opacity="1.0" filter="url(#b3)"/>
<rect x="123.05" y="189" width="22.5" height="8.5" fill="#c4c4c4" opacity="0.6" filter="url(#b2)"/>
<rect x="122.55" y="185.4" width="23.5" height="4" rx="3.5" fill="#000" opacity="1.0" filter="url(#b3)"/>
<rect x="148.75" y="189" width="16.5" height="8.5" fill="#c4c4c4" opacity="0.6" filter="url(#b2)"/>
<rect x="148.25" y="185.4" width="17.5" height="4" rx="3.5" fill="#000" opacity="1.0" filter="url(#b3)"/>
<rect x="171.2" y="189" width="19" height="8.5" fill="#c4c4c4" opacity="0.6" filter="url(#b2)"/>
<rect x="170.7" y="185.4" width="20" height="4" rx="3.5" fill="#000" opacity="1.0" filter="url(#b3)"/>
<rect x="196.25" y="189" width="17.5" height="8.5" fill="#c4c4c4" opacity="0.6" filter="url(#b2)"/>
<rect x="195.75" y="185.4" width="18.5" height="4" rx="3.5" fill="#000" opacity="1.0" filter="url(#b3)"/>
<rect x="69.2" y="135.3" width="156" height="16.6" fill="none" stroke="#111" stroke-width="1.5"/>
<rect x="69.2" y="154.8" width="156" height="16.9" fill="none" stroke="#111" stroke-width="1.5"/>
<rect x="69.2" y="175.3" width="156" height="25" fill="none" stroke="#111" stroke-width="1.5"/>
<line x1="225.2" y1="139.8" x2="228.7" y2="139.8" stroke="#222" stroke-width="0.9"/>
<text x="229.8" y="141.8" font-size="5.6" textLength="19.2" lengthAdjust="spacingAndGlyphs" fill="#1c1c1c">63 KDa</text>
<line x1="225.2" y1="162.9" x2="228.7" y2="162.9" stroke="#222" stroke-width="0.9"/>
<text x="229.8" y="164.9" font-size="5.6" textLength="19.2" lengthAdjust="spacingAndGlyphs" fill="#1c1c1c">63 KDa</text>
<line x1="225.2" y1="174.6" x2="228.7" y2="174.6" stroke="#222" stroke-width="0.9"/>
<text x="229.8" y="176.6" font-size="5.6" textLength="19.2" lengthAdjust="spacingAndGlyphs" fill="#1c1c1c">48 KDa</text>
<line x1="225.2" y1="200.1" x2="228.7" y2="200.1" stroke="#222" stroke-width="0.9"/>
<text x="229.8" y="202.1" font-size="5.6" textLength="19.2" lengthAdjust="spacingAndGlyphs" fill="#1c1c1c">35 KDa</text>
<text x="64" y="146.07" font-size="9.4" text-anchor="end" fill="#1c1c1c">CRY2</text>
<text x="64" y="168.37" font-size="9.4" text-anchor="end" fill="#1c1c1c">CRY1</text>
<text x="64" y="194.77" font-size="9.4" text-anchor="end" fill="#1c1c1c">Actin</text>
<text x="469.4" y="13.13" font-size="13.5" font-weight="bold">D</text>
<text x="577.9" y="13.1" font-size="13.7" font-weight="bold" text-anchor="middle" textLength="37.7" lengthAdjust="spacingAndGlyphs">U2OS</text>
<line x1="505" y1="24.5" x2="519" y2="24.5" stroke="#2f63b6" stroke-width="1.4"/>
<circle cx="511.6" cy="24.5" r="2.4" fill="#fff" stroke="#2f63b6" stroke-width="1.2"/>
<text x="526" y="28.08" font-size="10">Dexamethasone</text>
<line x1="505" y1="41.5" x2="519" y2="41.5" stroke="#e8432e" stroke-width="1.4"/>
<circle cx="511.6" cy="41.5" r="3" fill="#e8432e"/>
<text x="526" y="45.08" font-size="10">EtOH</text>
<line x1="500.3" y1="35" x2="500.3" y2="159" stroke="#000" stroke-width="1.5"/>
<line x1="495" y1="35" x2="500.3" y2="35" stroke="#000" stroke-width="1.5"/>
<text x="493" y="38.37" font-size="9.4" font-weight="bold" text-anchor="end">80</text>
<line x1="495" y1="66" x2="500.3" y2="66" stroke="#000" stroke-width="1.5"/>
<text x="493" y="69.37" font-size="9.4" font-weight="bold" text-anchor="end">60</text>
<line x1="495" y1="97" x2="500.3" y2="97" stroke="#000" stroke-width="1.5"/>
<text x="493" y="100.37" font-size="9.4" font-weight="bold" text-anchor="end">40</text>
<line x1="495" y1="128" x2="500.3" y2="128" stroke="#000" stroke-width="1.5"/>
<text x="493" y="131.37" font-size="9.4" font-weight="bold" text-anchor="end">20</text>
<line x1="495" y1="159" x2="500.3" y2="159" stroke="#000" stroke-width="1.5"/>
<text x="493" y="162.37" font-size="9.4" font-weight="bold" text-anchor="end">0</text>
<line x1="500.3" y1="159" x2="669" y2="159" stroke="#000" stroke-width="1.45"/>
<line x1="514.3" y1="159" x2="514.3" y2="163.8" stroke="#000" stroke-width="1.45"/>
<text x="514.3" y="175.57" font-size="9.4" font-weight="bold" text-anchor="middle">0</text>
<line x1="549.28" y1="159" x2="549.28" y2="163.8" stroke="#000" stroke-width="1.45"/>
<text x="549.28" y="175.57" font-size="9.4" font-weight="bold" text-anchor="middle">6</text>
<line x1="584.26" y1="159" x2="584.26" y2="163.8" stroke="#000" stroke-width="1.45"/>
<text x="584.26" y="175.57" font-size="9.4" font-weight="bold" text-anchor="middle">12</text>
<line x1="619.24" y1="159" x2="619.24" y2="163.8" stroke="#000" stroke-width="1.45"/>
<text x="619.24" y="175.57" font-size="9.4" font-weight="bold" text-anchor="middle">18</text>
<line x1="654.22" y1="159" x2="654.22" y2="163.8" stroke="#000" stroke-width="1.45"/>
<text x="654.22" y="175.57" font-size="9.4" font-weight="bold" text-anchor="middle">24</text>
<text x="575.3" y="190.38" font-size="10" font-weight="bold" text-anchor="middle" textLength="172.8" lengthAdjust="spacingAndGlyphs">Time after release from treatment (h)</text>
<text x="479" y="100.78" font-size="10" font-weight="bold" text-anchor="middle" textLength="130.7" lengthAdjust="spacingAndGlyphs" transform="rotate(-90 479 97.2)">Cells with &gt; 10 RPA foci (%)</text>
<polygon points="514.3,153 584.5,144.9 654.2,153 654.2,154 514.3,154" fill="#231f20"/>
<line x1="514.3" y1="60" x2="514.3" y2="74" stroke="#e8432e" stroke-width="1"/>
<line x1="512.3" y1="60" x2="516.3" y2="60" stroke="#e8432e" stroke-width="1"/>
<line x1="512.3" y1="74" x2="516.3" y2="74" stroke="#e8432e" stroke-width="1"/>
<line x1="549.3" y1="62" x2="549.3" y2="72" stroke="#e8432e" stroke-width="1"/>
<line x1="547.3" y1="62" x2="551.3" y2="62" stroke="#e8432e" stroke-width="1"/>
<line x1="547.3" y1="72" x2="551.3" y2="72" stroke="#e8432e" stroke-width="1"/>
<line x1="584.5" y1="59.5" x2="584.5" y2="73.4" stroke="#e8432e" stroke-width="1"/>
<line x1="582.5" y1="59.5" x2="586.5" y2="59.5" stroke="#e8432e" stroke-width="1"/>
<line x1="582.5" y1="73.4" x2="586.5" y2="73.4" stroke="#e8432e" stroke-width="1"/>
<line x1="619" y1="60.5" x2="619" y2="76.3" stroke="#e8432e" stroke-width="1"/>
<line x1="617" y1="60.5" x2="621" y2="60.5" stroke="#e8432e" stroke-width="1"/>
<line x1="617" y1="76.3" x2="621" y2="76.3" stroke="#e8432e" stroke-width="1"/>
<line x1="654.6" y1="63.9" x2="654.6" y2="70.4" stroke="#e8432e" stroke-width="1"/>
<line x1="652.6" y1="63.9" x2="656.6" y2="63.9" stroke="#e8432e" stroke-width="1"/>
<line x1="652.6" y1="70.4" x2="656.6" y2="70.4" stroke="#e8432e" stroke-width="1"/>
<line x1="514.3" y1="60" x2="514.3" y2="71" stroke="#2f63b6" stroke-width="1"/>
<line x1="512.3" y1="60" x2="516.3" y2="60" stroke="#2f63b6" stroke-width="1"/>
<line x1="512.3" y1="71" x2="516.3" y2="71" stroke="#2f63b6" stroke-width="1"/>
<line x1="549.3" y1="66" x2="549.3" y2="74" stroke="#2f63b6" stroke-width="1"/>
<line x1="547.3" y1="66" x2="551.3" y2="66" stroke="#2f63b6" stroke-width="1"/>
<line x1="547.3" y1="74" x2="551.3" y2="74" stroke="#2f63b6" stroke-width="1"/>
<line x1="584.5" y1="82.4" x2="584.5" y2="98.9" stroke="#2f63b6" stroke-width="1"/>
<line x1="582.5" y1="82.4" x2="586.5" y2="82.4" stroke="#2f63b6" stroke-width="1"/>
<line x1="582.5" y1="98.9" x2="586.5" y2="98.9" stroke="#2f63b6" stroke-width="1"/>
<line x1="619" y1="66" x2="619" y2="77" stroke="#2f63b6" stroke-width="1"/>
<line x1="617" y1="66" x2="621" y2="66" stroke="#2f63b6" stroke-width="1"/>
<line x1="617" y1="77" x2="621" y2="77" stroke="#2f63b6" stroke-width="1"/>
<line x1="654.6" y1="52.6" x2="654.6" y2="67" stroke="#2f63b6" stroke-width="1"/>
<line x1="652.6" y1="52.6" x2="656.6" y2="52.6" stroke="#2f63b6" stroke-width="1"/>
<line x1="652.6" y1="67" x2="656.6" y2="67" stroke="#2f63b6" stroke-width="1"/>
<polyline points="514.3,66.8 549.3,68.2 584.5,66 619,67.6 654.6,65.6" fill="none" stroke="#e8432e" stroke-width="1.5"/>
<polyline points="514.3,64.8 549.3,69 584.5,88.2 619,72 654.6,59.9" fill="none" stroke="#2f63b6" stroke-width="1.5"/>
<circle cx="504.9" cy="65.8" r="3" fill="#e8432e"/>
<circle cx="514" cy="75.1" r="3" fill="#e8432e"/>
<circle cx="519.5" cy="67.2" r="3" fill="#e8432e"/>
<circle cx="515.5" cy="67.5" r="3" fill="#e8432e"/>
<circle cx="539.5" cy="69" r="3" fill="#e8432e"/>
<circle cx="549.3" cy="62.8" r="3" fill="#e8432e"/>
<circle cx="554.9" cy="71.2" r="3" fill="#e8432e"/>
<circle cx="543.9" cy="69.7" r="3" fill="#e8432e"/>
<circle cx="580.1" cy="61.7" r="3" fill="#e8432e"/>
<circle cx="589.2" cy="60.5" r="3" fill="#e8432e"/>
<circle cx="580.1" cy="70.9" r="3" fill="#e8432e"/>
<circle cx="589.2" cy="70.9" r="3" fill="#e8432e"/>
<circle cx="610" cy="61" r="3" fill="#e8432e"/>
<circle cx="610" cy="80.2" r="3" fill="#e8432e"/>
<circle cx="622.4" cy="66" r="3" fill="#e8432e"/>
<circle cx="628.7" cy="68.2" r="3" fill="#e8432e"/>
<circle cx="645.1" cy="59.9" r="3" fill="#e8432e"/>
<circle cx="645.1" cy="72.6" r="3" fill="#e8432e"/>
<circle cx="654.6" cy="68.2" r="3" fill="#e8432e"/>
<circle cx="664" cy="63.9" r="3" fill="#e8432e"/>
<circle cx="514.4" cy="58" r="2.4" fill="#fff" stroke="#2f63b6" stroke-width="1.2"/>
<circle cx="508.9" cy="68.7" r="2.4" fill="#fff" stroke="#2f63b6" stroke-width="1.2"/>
<circle cx="513.5" cy="66" r="2.4" fill="#fff" stroke="#2f63b6" stroke-width="1.2"/>
<circle cx="523.5" cy="68.2" r="2.4" fill="#fff" stroke="#2f63b6" stroke-width="1.2"/>
<circle cx="543.9" cy="75.1" r="2.4" fill="#fff" stroke="#2f63b6" stroke-width="1.2"/>
<circle cx="551.2" cy="71.9" r="2.4" fill="#fff" stroke="#2f63b6" stroke-width="1.2"/>
<circle cx="558.8" cy="68.2" r="2.4" fill="#fff" stroke="#2f63b6" stroke-width="1.2"/>
<circle cx="575.7" cy="85" r="2.4" fill="#fff" stroke="#2f63b6" stroke-width="1.2"/>
<circle cx="584.5" cy="88.2" r="2.4" fill="#fff" stroke="#2f63b6" stroke-width="1.2"/>
<circle cx="593.7" cy="88" r="2.4" fill="#fff" stroke="#2f63b6" stroke-width="1.2"/>
<circle cx="584.5" cy="104" r="2.4" fill="#fff" stroke="#2f63b6" stroke-width="1.2"/>
<circle cx="610" cy="70.4" r="2.4" fill="#fff" stroke="#2f63b6" stroke-width="1.2"/>
<circle cx="616.6" cy="68.2" r="2.4" fill="#fff" stroke="#2f63b6" stroke-width="1.2"/>
<circle cx="622.4" cy="77" r="2.4" fill="#fff" stroke="#2f63b6" stroke-width="1.2"/>
<circle cx="628.7" cy="75.5" r="2.4" fill="#fff" stroke="#2f63b6" stroke-width="1.2"/>
<circle cx="645.5" cy="54.1" r="2.4" fill="#fff" stroke="#2f63b6" stroke-width="1.2"/>
<circle cx="654.6" cy="59.9" r="2.4" fill="#fff" stroke="#2f63b6" stroke-width="1.2"/>
<circle cx="663.8" cy="56.6" r="2.4" fill="#fff" stroke="#2f63b6" stroke-width="1.2"/>
<circle cx="663.8" cy="69" r="2.4" fill="#fff" stroke="#2f63b6" stroke-width="1.2"/>
<line x1="575.6" y1="73.6" x2="575.6" y2="80.3" stroke="#000" stroke-width="1.4"/>
<line x1="572.5" y1="73.6" x2="578.7" y2="73.6" stroke="#000" stroke-width="1.4"/>
<line x1="572.5" y1="80.3" x2="578.7" y2="80.3" stroke="#000" stroke-width="1.4"/>
<text x="579.6" y="79.36" font-size="6.6" textLength="27" lengthAdjust="spacingAndGlyphs" fill="#111">p&lt;0.0001</text>
<polyline points="547.3,108 547.3,111.3 583.3,111.3 583.3,108" fill="none" stroke="#000" stroke-width="1.25"/>
<text x="565.3" y="110.73" font-size="6.5" text-anchor="middle" fill="#111">p=0.0009</text>
<polyline points="585.5,108 585.5,111.3 621.7,111.3 621.7,108" fill="none" stroke="#000" stroke-width="1.25"/>
<text x="603.6" y="110.73" font-size="6.5" text-anchor="middle" fill="#111">p=0.0022</text>
<polyline points="513.7,114.3 513.7,119.3 583.3,119.3 583.3,114.3" fill="none" stroke="#000" stroke-width="1.25"/>
<text x="548.5" y="118.63" font-size="6.5" text-anchor="middle" fill="#111">p&lt;0.0001</text>
<polyline points="585.5,114.3 585.5,119.3 655,119.3 655,114.3" fill="none" stroke="#000" stroke-width="1.25"/>
<text x="620.25" y="118.63" font-size="6.5" text-anchor="middle" fill="#111">p&lt;0.0001</text>
<text x="2.6" y="221.83" font-size="13.5" font-weight="bold">E</text>
<text x="126" y="220.9" font-size="13.7" font-weight="bold" text-anchor="middle" textLength="38" lengthAdjust="spacingAndGlyphs">U2OS</text>
<line x1="42.9" y1="229.4" x2="56.9" y2="229.4" stroke="#2f63b6" stroke-width="1.4"/>
<circle cx="49.9" cy="229.4" r="2.4" fill="#fff" stroke="#2f63b6" stroke-width="1.2"/>
<text x="64.5" y="232.98" font-size="10">Forskolin</text>
<line x1="42.9" y1="246.4" x2="56.9" y2="246.4" stroke="#e8432e" stroke-width="1.4"/>
<circle cx="49.9" cy="246.4" r="3" fill="#e8432e"/>
<text x="64.5" y="249.98" font-size="10">DMSO</text>
<line x1="35" y1="238.7" x2="35" y2="362.6" stroke="#000" stroke-width="1.5"/>
<line x1="29.7" y1="238.68" x2="35" y2="238.68" stroke="#000" stroke-width="1.5"/>
<text x="27.7" y="242.05" font-size="9.4" font-weight="bold" text-anchor="end">80</text>
<line x1="29.7" y1="269.66" x2="35" y2="269.66" stroke="#000" stroke-width="1.5"/>
<text x="27.7" y="273.03" font-size="9.4" font-weight="bold" text-anchor="end">60</text>
<line x1="29.7" y1="300.64" x2="35" y2="300.64" stroke="#000" stroke-width="1.5"/>
<text x="27.7" y="304.01" font-size="9.4" font-weight="bold" text-anchor="end">40</text>
<line x1="29.7" y1="331.62" x2="35" y2="331.62" stroke="#000" stroke-width="1.5"/>
<text x="27.7" y="334.99" font-size="9.4" font-weight="bold" text-anchor="end">20</text>
<line x1="29.7" y1="362.6" x2="35" y2="362.6" stroke="#000" stroke-width="1.5"/>
<text x="27.7" y="365.97" font-size="9.4" font-weight="bold" text-anchor="end">0</text>
<line x1="35" y1="362.6" x2="221.4" y2="362.6" stroke="#000" stroke-width="1.45"/>
<line x1="57.8" y1="362.6" x2="57.8" y2="367.4" stroke="#000" stroke-width="1.45"/>
<text x="57.8" y="379.07" font-size="9.4" font-weight="bold" text-anchor="middle">0</text>
<line x1="93.02" y1="362.6" x2="93.02" y2="367.4" stroke="#000" stroke-width="1.45"/>
<text x="93.02" y="379.07" font-size="9.4" font-weight="bold" text-anchor="middle">6</text>
<line x1="128.24" y1="362.6" x2="128.24" y2="367.4" stroke="#000" stroke-width="1.45"/>
<text x="128.24" y="379.07" font-size="9.4" font-weight="bold" text-anchor="middle">12</text>
<line x1="163.46" y1="362.6" x2="163.46" y2="367.4" stroke="#000" stroke-width="1.45"/>
<text x="163.46" y="379.07" font-size="9.4" font-weight="bold" text-anchor="middle">18</text>
<line x1="198.68" y1="362.6" x2="198.68" y2="367.4" stroke="#000" stroke-width="1.45"/>
<text x="198.68" y="379.07" font-size="9.4" font-weight="bold" text-anchor="middle">24</text>
<text x="124.9" y="393.38" font-size="10" font-weight="bold" text-anchor="middle" textLength="174.2" lengthAdjust="spacingAndGlyphs">Time after release from treatment (h)</text>
<text x="8.2" y="304.18" font-size="10" font-weight="bold" text-anchor="middle" textLength="130.3" lengthAdjust="spacingAndGlyphs" transform="rotate(-90 8.2 300.6)">Cells with &gt; 10 RPA foci (%)</text>
<polygon points="57.8,358.3 128.9,350.3 198.7,358.3 198.7,359.3 57.8,359.3" fill="#231f20"/>
<line x1="58.2" y1="264" x2="58.2" y2="280" stroke="#e8432e" stroke-width="1"/>
<line x1="56.2" y1="264" x2="60.2" y2="264" stroke="#e8432e" stroke-width="1"/>
<line x1="56.2" y1="280" x2="60.2" y2="280" stroke="#e8432e" stroke-width="1"/>
<line x1="93.6" y1="266" x2="93.6" y2="272" stroke="#e8432e" stroke-width="1"/>
<line x1="91.6" y1="266" x2="95.6" y2="266" stroke="#e8432e" stroke-width="1"/>
<line x1="91.6" y1="272" x2="95.6" y2="272" stroke="#e8432e" stroke-width="1"/>
<line x1="128.6" y1="266" x2="128.6" y2="274.5" stroke="#e8432e" stroke-width="1"/>
<line x1="126.6" y1="266" x2="130.6" y2="266" stroke="#e8432e" stroke-width="1"/>
<line x1="126.6" y1="274.5" x2="130.6" y2="274.5" stroke="#e8432e" stroke-width="1"/>
<line x1="164" y1="267" x2="164" y2="273" stroke="#e8432e" stroke-width="1"/>
<line x1="162" y1="267" x2="166" y2="267" stroke="#e8432e" stroke-width="1"/>
<line x1="162" y1="273" x2="166" y2="273" stroke="#e8432e" stroke-width="1"/>
<line x1="198.7" y1="264" x2="198.7" y2="274" stroke="#e8432e" stroke-width="1"/>
<line x1="196.7" y1="264" x2="200.7" y2="264" stroke="#e8432e" stroke-width="1"/>
<line x1="196.7" y1="274" x2="200.7" y2="274" stroke="#e8432e" stroke-width="1"/>
<line x1="58.2" y1="259" x2="58.2" y2="272" stroke="#2f63b6" stroke-width="1"/>
<line x1="56.2" y1="259" x2="60.2" y2="259" stroke="#2f63b6" stroke-width="1"/>
<line x1="56.2" y1="272" x2="60.2" y2="272" stroke="#2f63b6" stroke-width="1"/>
<line x1="93.6" y1="262" x2="93.6" y2="290" stroke="#2f63b6" stroke-width="1"/>
<line x1="91.6" y1="262" x2="95.6" y2="262" stroke="#2f63b6" stroke-width="1"/>
<line x1="91.6" y1="290" x2="95.6" y2="290" stroke="#2f63b6" stroke-width="1"/>
<line x1="128.6" y1="283" x2="128.6" y2="299" stroke="#2f63b6" stroke-width="1"/>
<line x1="126.6" y1="283" x2="130.6" y2="283" stroke="#2f63b6" stroke-width="1"/>
<line x1="126.6" y1="299" x2="130.6" y2="299" stroke="#2f63b6" stroke-width="1"/>
<line x1="164" y1="264" x2="164" y2="282" stroke="#2f63b6" stroke-width="1"/>
<line x1="162" y1="264" x2="166" y2="264" stroke="#2f63b6" stroke-width="1"/>
<line x1="162" y1="282" x2="166" y2="282" stroke="#2f63b6" stroke-width="1"/>
<line x1="198.7" y1="244.3" x2="198.7" y2="270" stroke="#2f63b6" stroke-width="1"/>
<line x1="196.7" y1="244.3" x2="200.7" y2="244.3" stroke="#2f63b6" stroke-width="1"/>
<line x1="196.7" y1="270" x2="200.7" y2="270" stroke="#2f63b6" stroke-width="1"/>
<polyline points="58.2,272.5 93.6,268.8 128.6,270.6 164,270.6 198.7,269.5" fill="none" stroke="#e8432e" stroke-width="1.5"/>
<polyline points="58.2,265.5 93.6,276.5 128.6,295.5 164,275.2 198.7,260" fill="none" stroke="#2f63b6" stroke-width="1.5"/>
<circle cx="49" cy="268.8" r="3" fill="#e8432e"/>
<circle cx="58.2" cy="277.6" r="3" fill="#e8432e"/>
<circle cx="58.2" cy="283.9" r="3" fill="#e8432e"/>
<circle cx="67.3" cy="263.6" r="3" fill="#e8432e"/>
<circle cx="84.1" cy="266.4" r="3" fill="#e8432e"/>
<circle cx="90" cy="269.9" r="3" fill="#e8432e"/>
<circle cx="96.4" cy="267.8" r="3" fill="#e8432e"/>
<circle cx="102.7" cy="269.9" r="3" fill="#e8432e"/>
<circle cx="119.1" cy="269.9" r="3" fill="#e8432e"/>
<circle cx="128.6" cy="267.8" r="3" fill="#e8432e"/>
<circle cx="128.6" cy="273.4" r="3" fill="#e8432e"/>
<circle cx="137.7" cy="273" r="3" fill="#e8432e"/>
<circle cx="154.2" cy="270.6" r="3" fill="#e8432e"/>
<circle cx="166.4" cy="272.3" r="3" fill="#e8432e"/>
<circle cx="172.4" cy="269.9" r="3" fill="#e8432e"/>
<circle cx="189.2" cy="267.8" r="3" fill="#e8432e"/>
<circle cx="189.2" cy="275.1" r="3" fill="#e8432e"/>
<circle cx="198.7" cy="269.9" r="3" fill="#e8432e"/>
<circle cx="207.8" cy="266" r="3" fill="#e8432e"/>
<circle cx="49" cy="263.6" r="2.4" fill="#fff" stroke="#2f63b6" stroke-width="1.2"/>
<circle cx="58.2" cy="261.8" r="2.4" fill="#fff" stroke="#2f63b6" stroke-width="1.2"/>
<circle cx="58.2" cy="267.8" r="2.4" fill="#fff" stroke="#2f63b6" stroke-width="1.2"/>
<circle cx="67.3" cy="271.3" r="2.4" fill="#fff" stroke="#2f63b6" stroke-width="1.2"/>
<circle cx="90" cy="277.6" r="2.4" fill="#fff" stroke="#2f63b6" stroke-width="1.2"/>
<circle cx="93.6" cy="256.6" r="2.4" fill="#fff" stroke="#2f63b6" stroke-width="1.2"/>
<circle cx="93.6" cy="290.9" r="2.4" fill="#fff" stroke="#2f63b6" stroke-width="1.2"/>
<circle cx="96.4" cy="280" r="2.4" fill="#fff" stroke="#2f63b6" stroke-width="1.2"/>
<circle cx="119.1" cy="297.6" r="2.4" fill="#fff" stroke="#2f63b6" stroke-width="1.2"/>
<circle cx="128.6" cy="285.3" r="2.4" fill="#fff" stroke="#2f63b6" stroke-width="1.2"/>
<circle cx="128.6" cy="296.2" r="2.4" fill="#fff" stroke="#2f63b6" stroke-width="1.2"/>
<circle cx="137.7" cy="297.6" r="2.4" fill="#fff" stroke="#2f63b6" stroke-width="1.2"/>
<circle cx="154.2" cy="265.3" r="2.4" fill="#fff" stroke="#2f63b6" stroke-width="1.2"/>
<circle cx="160.5" cy="284.6" r="2.4" fill="#fff" stroke="#2f63b6" stroke-width="1.2"/>
<circle cx="160.5" cy="267.8" r="2.4" fill="#fff" stroke="#2f63b6" stroke-width="1.2"/>
<circle cx="166.4" cy="280" r="2.4" fill="#fff" stroke="#2f63b6" stroke-width="1.2"/>
<circle cx="189.2" cy="259.4" r="2.4" fill="#fff" stroke="#2f63b6" stroke-width="1.2"/>
<circle cx="198.7" cy="244.3" r="2.4" fill="#fff" stroke="#2f63b6" stroke-width="1.2"/>
<circle cx="198.7" cy="260" r="2.4" fill="#fff" stroke="#2f63b6" stroke-width="1.2"/>
<circle cx="207.8" cy="271.3" r="2.4" fill="#fff" stroke="#2f63b6" stroke-width="1.2"/>
<line x1="119.1" y1="275" x2="119.1" y2="286.3" stroke="#000" stroke-width="1.4"/>
<line x1="116.35" y1="275" x2="121.85" y2="275" stroke="#000" stroke-width="1.4"/>
<line x1="116.35" y1="286.3" x2="121.85" y2="286.3" stroke="#000" stroke-width="1.4"/>
<text x="122.6" y="282.36" font-size="6.6" textLength="28.8" lengthAdjust="spacingAndGlyphs" fill="#111">p=0.0062</text>
<polyline points="57.8,303.4 57.8,307.4 126.8,307.4 126.8,303.4" fill="none" stroke="#000" stroke-width="1.25"/>
<text x="92.3" y="306.83" font-size="6.5" text-anchor="middle" fill="#111">p=0.0006</text>
<polyline points="129.6,303.4 129.6,307.4 165.4,307.4 165.4,303.4" fill="none" stroke="#000" stroke-width="1.25"/>
<text x="147.5" y="306.83" font-size="6.5" text-anchor="middle" fill="#111">p=0.0307</text>
<polyline points="129.6,310.9 129.6,315.4 199,315.4 199,310.9" fill="none" stroke="#000" stroke-width="1.25"/>
<text x="164.3" y="314.83" font-size="6.5" text-anchor="middle" fill="#111">p=0.0062</text>
<text x="233.4" y="221.63" font-size="13.5" font-weight="bold">F</text>
<text x="377.25" y="221.1" font-size="13.7" font-weight="bold" text-anchor="middle" textLength="37" lengthAdjust="spacingAndGlyphs">U2OS</text>
<line x1="274.7" y1="238.5" x2="274.7" y2="363.3" stroke="#000" stroke-width="1.5"/>
<line x1="269.4" y1="238.5" x2="274.7" y2="238.5" stroke="#000" stroke-width="1.5"/>
<text x="267.4" y="241.87" font-size="9.4" font-weight="bold" text-anchor="end">80</text>
<line x1="269.4" y1="269.7" x2="274.7" y2="269.7" stroke="#000" stroke-width="1.5"/>
<text x="267.4" y="273.07" font-size="9.4" font-weight="bold" text-anchor="end">60</text>
<line x1="269.4" y1="300.9" x2="274.7" y2="300.9" stroke="#000" stroke-width="1.5"/>
<text x="267.4" y="304.27" font-size="9.4" font-weight="bold" text-anchor="end">40</text>
<line x1="269.4" y1="332.1" x2="274.7" y2="332.1" stroke="#000" stroke-width="1.5"/>
<text x="267.4" y="335.47" font-size="9.4" font-weight="bold" text-anchor="end">20</text>
<line x1="269.4" y1="363.3" x2="274.7" y2="363.3" stroke="#000" stroke-width="1.5"/>
<text x="267.4" y="366.67" font-size="9.4" font-weight="bold" text-anchor="end">0</text>
<line x1="274.7" y1="363.3" x2="443.9" y2="363.3" stroke="#000" stroke-width="1.45"/>
<line x1="274.7" y1="363.3" x2="274.7" y2="368.1" stroke="#000" stroke-width="1.45"/>
<line x1="295.76" y1="363.3" x2="295.76" y2="368.1" stroke="#000" stroke-width="1.45"/>
<line x1="316.82" y1="363.3" x2="316.82" y2="368.1" stroke="#000" stroke-width="1.45"/>
<line x1="337.88" y1="363.3" x2="337.88" y2="368.1" stroke="#000" stroke-width="1.45"/>
<line x1="358.94" y1="363.3" x2="358.94" y2="368.1" stroke="#000" stroke-width="1.45"/>
<line x1="380" y1="363.3" x2="380" y2="368.1" stroke="#000" stroke-width="1.45"/>
<line x1="401.06" y1="363.3" x2="401.06" y2="368.1" stroke="#000" stroke-width="1.45"/>
<line x1="422.12" y1="363.3" x2="422.12" y2="368.1" stroke="#000" stroke-width="1.45"/>
<line x1="443.18" y1="363.3" x2="443.18" y2="368.1" stroke="#000" stroke-width="1.45"/>
<text x="274.7" y="378.67" font-size="9.4" font-weight="bold" text-anchor="middle">0</text>
<text x="295.76" y="380.37" font-size="9.4" font-weight="bold" text-anchor="middle">6</text>
<text x="316.82" y="378.67" font-size="9.4" font-weight="bold" text-anchor="middle">12</text>
<text x="337.88" y="378.67" font-size="9.4" font-weight="bold" text-anchor="middle">18</text>
<text x="358.94" y="378.67" font-size="9.4" font-weight="bold" text-anchor="middle">24</text>
<text x="380" y="378.67" font-size="9.4" font-weight="bold" text-anchor="middle">30</text>
<text x="401.06" y="378.67" font-size="9.4" font-weight="bold" text-anchor="middle">36</text>
<text x="422.12" y="378.67" font-size="9.4" font-weight="bold" text-anchor="middle">42</text>
<text x="443.18" y="378.67" font-size="9.4" font-weight="bold" text-anchor="middle">48</text>
<text x="362.5" y="394.28" font-size="10" font-weight="bold" text-anchor="middle" textLength="184" lengthAdjust="spacingAndGlyphs">Time after dexamethasone release (h)</text>
<text x="249.3" y="303.58" font-size="10" font-weight="bold" text-anchor="middle" textLength="135.8" lengthAdjust="spacingAndGlyphs" transform="rotate(-90 249.3 300)">Cells with &gt; 10 RPA foci (%)</text>
<polygon points="276.9,358.6 317.1,350.3 359.5,358.6 400.6,350.3 442.3,358.6 442.3,360 276.9,360" fill="#231f20"/>
<line x1="274.7" y1="281.7" x2="444.9" y2="281.7" stroke="#000" stroke-width="1.4" stroke-dasharray="4.2,2.6"/>
<line x1="274.7" y1="259.8" x2="274.7" y2="284" stroke="#000" stroke-width="1.4"/>
<line x1="271.45" y1="259.8" x2="277.95" y2="259.8" stroke="#000" stroke-width="1.4"/>
<line x1="271.45" y1="284" x2="277.95" y2="284" stroke="#000" stroke-width="1.4"/>
<line x1="295.76" y1="303.2" x2="295.76" y2="309.2" stroke="#000" stroke-width="1.4"/>
<line x1="292.51" y1="303.2" x2="299.01" y2="303.2" stroke="#000" stroke-width="1.4"/>
<line x1="292.51" y1="309.2" x2="299.01" y2="309.2" stroke="#000" stroke-width="1.4"/>
<line x1="316.82" y1="306.9" x2="316.82" y2="314.2" stroke="#000" stroke-width="1.4"/>
<line x1="313.57" y1="306.9" x2="320.07" y2="306.9" stroke="#000" stroke-width="1.4"/>
<line x1="313.57" y1="314.2" x2="320.07" y2="314.2" stroke="#000" stroke-width="1.4"/>
<line x1="358.94" y1="257.2" x2="358.94" y2="286.7" stroke="#000" stroke-width="1.4"/>
<line x1="355.69" y1="257.2" x2="362.19" y2="257.2" stroke="#000" stroke-width="1.4"/>
<line x1="355.69" y1="286.7" x2="362.19" y2="286.7" stroke="#000" stroke-width="1.4"/>
<line x1="380" y1="270.6" x2="380" y2="305.2" stroke="#000" stroke-width="1.4"/>
<line x1="376.75" y1="270.6" x2="383.25" y2="270.6" stroke="#000" stroke-width="1.4"/>
<line x1="376.75" y1="305.2" x2="383.25" y2="305.2" stroke="#000" stroke-width="1.4"/>
<line x1="401.06" y1="301.8" x2="401.06" y2="323.3" stroke="#000" stroke-width="1.4"/>
<line x1="397.81" y1="301.8" x2="404.31" y2="301.8" stroke="#000" stroke-width="1.4"/>
<line x1="397.81" y1="323.3" x2="404.31" y2="323.3" stroke="#000" stroke-width="1.4"/>
<line x1="422.12" y1="289.7" x2="422.12" y2="297.5" stroke="#000" stroke-width="1.4"/>
<line x1="418.87" y1="289.7" x2="425.37" y2="289.7" stroke="#000" stroke-width="1.4"/>
<line x1="418.87" y1="297.5" x2="425.37" y2="297.5" stroke="#000" stroke-width="1.4"/>
<line x1="443.18" y1="248.8" x2="443.18" y2="282.3" stroke="#000" stroke-width="1.4"/>
<line x1="439.93" y1="248.8" x2="446.43" y2="248.8" stroke="#000" stroke-width="1.4"/>
<line x1="439.93" y1="282.3" x2="446.43" y2="282.3" stroke="#000" stroke-width="1.4"/>
<polyline points="274.7,271.6 295.76,305.8 316.82,310.2 337.88,303.2 358.94,271.6 380,288.4 401.06,312.9 422.12,294 443.18,265.6" fill="none" stroke="#000" stroke-width="1.5"/>
<circle cx="274.7" cy="263.9" r="2.7" fill="#e8432e"/>
<circle cx="274.7" cy="271.6" r="2.7" fill="#e8432e"/>
<circle cx="274.7" cy="280" r="2.7" fill="#e8432e"/>
<circle cx="295.76" cy="305.2" r="2.7" fill="#e8432e"/>
<circle cx="295.76" cy="308.2" r="2.7" fill="#e8432e"/>
<circle cx="316.82" cy="308.2" r="2.7" fill="#e8432e"/>
<circle cx="316.82" cy="312.6" r="2.7" fill="#e8432e"/>
<circle cx="337.88" cy="303.2" r="2.7" fill="#e8432e"/>
<circle cx="358.94" cy="261.5" r="2.7" fill="#e8432e"/>
<circle cx="358.94" cy="271.6" r="2.7" fill="#e8432e"/>
<circle cx="358.94" cy="282.3" r="2.7" fill="#e8432e"/>
<circle cx="380" cy="275.6" r="2.7" fill="#e8432e"/>
<circle cx="380" cy="288.4" r="2.7" fill="#e8432e"/>
<circle cx="380" cy="299.1" r="2.7" fill="#e8432e"/>
<circle cx="401.06" cy="305.8" r="2.7" fill="#e8432e"/>
<circle cx="401.06" cy="312.9" r="2.7" fill="#e8432e"/>
<circle cx="401.06" cy="321" r="2.7" fill="#e8432e"/>
<circle cx="422.12" cy="290.7" r="2.7" fill="#e8432e"/>
<circle cx="422.12" cy="294.1" r="2.7" fill="#e8432e"/>
<circle cx="422.12" cy="296.8" r="2.7" fill="#e8432e"/>
<circle cx="443.18" cy="253.8" r="2.7" fill="#e8432e"/>
<circle cx="443.18" cy="265.6" r="2.7" fill="#e8432e"/>
<circle cx="443.18" cy="278" r="2.7" fill="#e8432e"/>
<text x="464" y="222.42" font-size="12.9" font-weight="bold">G</text>
<text x="595" y="220.42" font-size="12.9" font-weight="bold" text-anchor="middle" textLength="34.5" lengthAdjust="spacingAndGlyphs">U2OS</text>
<line x1="507" y1="241" x2="507" y2="366.3" stroke="#000" stroke-width="1.2"/>
<line x1="503.5" y1="241.02" x2="507" y2="241.02" stroke="#000" stroke-width="1.2"/>
<text x="499.6" y="244.54" font-size="9" font-weight="bold" text-anchor="end">8×10</text>
<text x="502.2" y="240.98" font-size="3.8" font-weight="bold">6</text>
<line x1="503.5" y1="272.34" x2="507" y2="272.34" stroke="#000" stroke-width="1.2"/>
<text x="499.6" y="275.86" font-size="9" font-weight="bold" text-anchor="end">6×10</text>
<text x="502.2" y="272.3" font-size="3.8" font-weight="bold">6</text>
<line x1="503.5" y1="303.66" x2="507" y2="303.66" stroke="#000" stroke-width="1.2"/>
<text x="499.6" y="307.18" font-size="9" font-weight="bold" text-anchor="end">4×10</text>
<text x="502.2" y="303.62" font-size="3.8" font-weight="bold">6</text>
<line x1="503.5" y1="334.98" x2="507" y2="334.98" stroke="#000" stroke-width="1.2"/>
<text x="499.6" y="338.5" font-size="9" font-weight="bold" text-anchor="end">2×10</text>
<text x="502.2" y="334.94" font-size="3.8" font-weight="bold">6</text>
<line x1="503.5" y1="366.3" x2="507" y2="366.3" stroke="#000" stroke-width="1.2"/>
<text x="502.6" y="369.12" font-size="9" font-weight="bold" text-anchor="end">0</text>
<line x1="507" y1="366.3" x2="652.2" y2="366.3" stroke="#000" stroke-width="1.2"/>
<line x1="507.7" y1="366.3" x2="507.7" y2="370" stroke="#000" stroke-width="1.2"/>
<text x="507.7" y="380.69" font-size="7.8" font-weight="bold" text-anchor="middle">0</text>
<line x1="525.7" y1="366.3" x2="525.7" y2="370" stroke="#000" stroke-width="1.2"/>
<text x="525.7" y="380.69" font-size="7.8" font-weight="bold" text-anchor="middle">6</text>
<line x1="543.7" y1="366.3" x2="543.7" y2="370" stroke="#000" stroke-width="1.2"/>
<text x="543.7" y="380.69" font-size="7.8" font-weight="bold" text-anchor="middle">12</text>
<line x1="561.7" y1="366.3" x2="561.7" y2="370" stroke="#000" stroke-width="1.2"/>
<text x="561.7" y="380.69" font-size="7.8" font-weight="bold" text-anchor="middle">18</text>
<line x1="579.7" y1="366.3" x2="579.7" y2="370" stroke="#000" stroke-width="1.2"/>
<text x="579.7" y="380.69" font-size="7.8" font-weight="bold" text-anchor="middle">24</text>
<line x1="597.7" y1="366.3" x2="597.7" y2="370" stroke="#000" stroke-width="1.2"/>
<text x="597.7" y="380.69" font-size="7.8" font-weight="bold" text-anchor="middle">30</text>
<line x1="615.7" y1="366.3" x2="615.7" y2="370" stroke="#000" stroke-width="1.2"/>
<text x="615.7" y="380.69" font-size="7.8" font-weight="bold" text-anchor="middle">36</text>
<line x1="633.7" y1="366.3" x2="633.7" y2="370" stroke="#000" stroke-width="1.2"/>
<text x="633.7" y="380.69" font-size="7.8" font-weight="bold" text-anchor="middle">42</text>
<line x1="651.7" y1="366.3" x2="651.7" y2="370" stroke="#000" stroke-width="1.2"/>
<text x="651.7" y="380.69" font-size="7.8" font-weight="bold" text-anchor="middle">48</text>
<text x="592" y="394.28" font-size="10" font-weight="bold" text-anchor="middle" textLength="184.6" lengthAdjust="spacingAndGlyphs">Time after dexamethasone release (h)</text>
<text x="469.6" y="306.08" font-size="10" font-weight="bold" text-anchor="middle" textLength="117.4" lengthAdjust="spacingAndGlyphs" transform="rotate(-90 469.6 302.5)">CRY1 stainning (IntDen)</text>
<line x1="507" y1="309.2" x2="652" y2="309.2" stroke="#000" stroke-width="1.4" stroke-dasharray="4.2,2.6"/>
<line x1="507.7" y1="299.1" x2="507.7" y2="328.3" stroke="#000" stroke-width="1.2"/>
<line x1="504.7" y1="299.1" x2="510.7" y2="299.1" stroke="#000" stroke-width="1.2"/>
<line x1="504.7" y1="328.3" x2="510.7" y2="328.3" stroke="#000" stroke-width="1.2"/>
<line x1="525.7" y1="275.6" x2="525.7" y2="316.6" stroke="#000" stroke-width="1.2"/>
<line x1="522.7" y1="275.6" x2="528.7" y2="275.6" stroke="#000" stroke-width="1.2"/>
<line x1="522.7" y1="316.6" x2="528.7" y2="316.6" stroke="#000" stroke-width="1.2"/>
<line x1="543.7" y1="277.3" x2="543.7" y2="313.6" stroke="#000" stroke-width="1.2"/>
<line x1="540.7" y1="277.3" x2="546.7" y2="277.3" stroke="#000" stroke-width="1.2"/>
<line x1="540.7" y1="313.6" x2="546.7" y2="313.6" stroke="#000" stroke-width="1.2"/>
<line x1="561.7" y1="293.4" x2="561.7" y2="326" stroke="#000" stroke-width="1.2"/>
<line x1="558.7" y1="293.4" x2="564.7" y2="293.4" stroke="#000" stroke-width="1.2"/>
<line x1="558.7" y1="326" x2="564.7" y2="326" stroke="#000" stroke-width="1.2"/>
<line x1="579.7" y1="309.9" x2="579.7" y2="335.1" stroke="#000" stroke-width="1.2"/>
<line x1="576.7" y1="309.9" x2="582.7" y2="309.9" stroke="#000" stroke-width="1.2"/>
<line x1="576.7" y1="335.1" x2="582.7" y2="335.1" stroke="#000" stroke-width="1.2"/>
<line x1="597.7" y1="288" x2="597.7" y2="323.3" stroke="#000" stroke-width="1.2"/>
<line x1="594.7" y1="288" x2="600.7" y2="288" stroke="#000" stroke-width="1.2"/>
<line x1="594.7" y1="323.3" x2="600.7" y2="323.3" stroke="#000" stroke-width="1.2"/>
<line x1="615.7" y1="279.3" x2="615.7" y2="315.9" stroke="#000" stroke-width="1.2"/>
<line x1="612.7" y1="279.3" x2="618.7" y2="279.3" stroke="#000" stroke-width="1.2"/>
<line x1="612.7" y1="315.9" x2="618.7" y2="315.9" stroke="#000" stroke-width="1.2"/>
<line x1="633.7" y1="274" x2="633.7" y2="319.3" stroke="#000" stroke-width="1.2"/>
<line x1="630.7" y1="274" x2="636.7" y2="274" stroke="#000" stroke-width="1.2"/>
<line x1="630.7" y1="319.3" x2="636.7" y2="319.3" stroke="#000" stroke-width="1.2"/>
<line x1="651.7" y1="290.7" x2="651.7" y2="325.3" stroke="#000" stroke-width="1.2"/>
<line x1="648.7" y1="290.7" x2="654.7" y2="290.7" stroke="#000" stroke-width="1.2"/>
<line x1="648.7" y1="325.3" x2="654.7" y2="325.3" stroke="#000" stroke-width="1.2"/>
<polyline points="507.7,314.2 525.7,295.8 543.7,295.1 561.7,310.2 579.7,322.6 597.7,305.2 615.7,297.5 633.7,296.8 651.7,308.2" fill="none" stroke="#000" stroke-width="1.4"/>
<circle cx="507.7" cy="314.2" r="2.3" fill="#000"/>
<circle cx="525.7" cy="295.8" r="2.3" fill="#000"/>
<circle cx="543.7" cy="295.1" r="2.3" fill="#000"/>
<circle cx="561.7" cy="310.2" r="2.3" fill="#000"/>
<circle cx="579.7" cy="322.6" r="2.3" fill="#000"/>
<circle cx="597.7" cy="305.2" r="2.3" fill="#000"/>
<circle cx="615.7" cy="297.5" r="2.3" fill="#000"/>
<circle cx="633.7" cy="296.8" r="2.3" fill="#000"/>
<circle cx="651.7" cy="308.2" r="2.3" fill="#000"/>
<text x="1.8" y="434.33" font-size="13.5" font-weight="bold">H</text>
<text x="130.5" y="459.1" font-size="13.7" font-weight="bold" text-anchor="middle" textLength="33.9" lengthAdjust="spacingAndGlyphs">RPE1</text>
<line x1="37.8" y1="464.5" x2="37.8" y2="592.4" stroke="#000" stroke-width="1.5"/>
<line x1="32.5" y1="483.2" x2="37.8" y2="483.2" stroke="#000" stroke-width="1.5"/>
<text x="30.5" y="486.57" font-size="9.4" font-weight="bold" text-anchor="end">60</text>
<line x1="32.5" y1="519.6" x2="37.8" y2="519.6" stroke="#000" stroke-width="1.5"/>
<text x="30.5" y="522.97" font-size="9.4" font-weight="bold" text-anchor="end">40</text>
<line x1="32.5" y1="556" x2="37.8" y2="556" stroke="#000" stroke-width="1.5"/>
<text x="30.5" y="559.37" font-size="9.4" font-weight="bold" text-anchor="end">20</text>
<line x1="32.5" y1="592.4" x2="37.8" y2="592.4" stroke="#000" stroke-width="1.5"/>
<text x="30.5" y="595.77" font-size="9.4" font-weight="bold" text-anchor="end">0</text>
<line x1="37.8" y1="592.4" x2="229.5" y2="592.4" stroke="#000" stroke-width="1.45"/>
<line x1="76.4" y1="592.4" x2="76.4" y2="597.2" stroke="#000" stroke-width="1.45"/>
<text x="76.4" y="608.88" font-size="10" font-weight="bold" text-anchor="middle" transform="rotate(-45 76.4 605.3)">0</text>
<line x1="133.1" y1="592.4" x2="133.1" y2="597.2" stroke="#000" stroke-width="1.45"/>
<text x="133.1" y="608.88" font-size="10" font-weight="bold" text-anchor="middle" transform="rotate(-45 133.1 605.3)">12</text>
<line x1="190.3" y1="592.4" x2="190.3" y2="597.2" stroke="#000" stroke-width="1.45"/>
<text x="190.3" y="608.88" font-size="10" font-weight="bold" text-anchor="middle" transform="rotate(-45 190.3 605.3)">24</text>
<text x="129.1" y="629.98" font-size="10" font-weight="bold" text-anchor="middle" textLength="190.2" lengthAdjust="spacingAndGlyphs">Time after dexamethasone release (h)</text>
<text x="12.6" y="531.78" font-size="10" font-weight="bold" text-anchor="middle" textLength="139.9" lengthAdjust="spacingAndGlyphs" transform="rotate(-90 12.6 528.2)">Cells with &gt; 10 RPA foci (%)</text>
<polygon points="77.8,586.6 133.1,579.1 189.2,586.6 189.2,587.6 77.8,587.6" fill="#231f20"/>
<line x1="38.6" y1="505.9" x2="224.5" y2="505.9" stroke="#000" stroke-width="2.6" stroke-dasharray="8,4.2"/>
<line x1="76.4" y1="493.3" x2="76.4" y2="508.3" stroke="#000" stroke-width="1.3"/>
<line x1="72.65" y1="493.3" x2="80.15" y2="493.3" stroke="#000" stroke-width="1.3"/>
<line x1="72.65" y1="508.3" x2="80.15" y2="508.3" stroke="#000" stroke-width="1.3"/>
<line x1="133.1" y1="516.4" x2="133.1" y2="543.4" stroke="#000" stroke-width="1.3"/>
<line x1="129.35" y1="516.4" x2="136.85" y2="516.4" stroke="#000" stroke-width="1.3"/>
<line x1="129.35" y1="543.4" x2="136.85" y2="543.4" stroke="#000" stroke-width="1.3"/>
<line x1="190.3" y1="496.8" x2="190.3" y2="514.6" stroke="#000" stroke-width="1.3"/>
<line x1="186.55" y1="496.8" x2="194.05" y2="496.8" stroke="#000" stroke-width="1.3"/>
<line x1="186.55" y1="514.6" x2="194.05" y2="514.6" stroke="#000" stroke-width="1.3"/>
<polyline points="76.4,500.3 133.1,532.4 190.3,505.9" fill="none" stroke="#000" stroke-width="1.3"/>
<circle cx="71.8" cy="492.6" r="2.7" fill="#e8432e"/>
<circle cx="81.3" cy="495.4" r="2.7" fill="#e8432e"/>
<circle cx="76.4" cy="500.3" r="2.7" fill="#e8432e"/>
<circle cx="76.4" cy="505.9" r="2.7" fill="#e8432e"/>
<circle cx="76.4" cy="511.1" r="2.7" fill="#e8432e"/>
<circle cx="128.6" cy="528.6" r="2.7" fill="#e8432e"/>
<circle cx="137.4" cy="528.6" r="2.7" fill="#e8432e"/>
<circle cx="133.1" cy="531.8" r="2.7" fill="#e8432e"/>
<circle cx="128.6" cy="536.4" r="2.7" fill="#e8432e"/>
<circle cx="137.4" cy="535.3" r="2.7" fill="#e8432e"/>
<circle cx="185.7" cy="503.1" r="2.7" fill="#e8432e"/>
<circle cx="194.5" cy="505.5" r="2.7" fill="#e8432e"/>
<circle cx="190.3" cy="508.3" r="2.7" fill="#e8432e"/>
<circle cx="185.7" cy="512.5" r="2.7" fill="#e8432e"/>
<circle cx="194.5" cy="512.5" r="2.7" fill="#e8432e"/>
<polyline points="81.6,485.5 81.6,477.8 129.6,477.8 129.6,485.5" fill="none" stroke="#000" stroke-width="1.3"/>
<text x="105.6" y="475.7" font-size="6.7" text-anchor="middle" fill="#111">p&lt;0.0001</text>
<polyline points="134.2,485.5 134.2,477.8 185,477.8 185,485.5" fill="none" stroke="#000" stroke-width="1.3"/>
<text x="159.6" y="475.7" font-size="6.7" text-anchor="middle" fill="#111">p&lt;0.0001</text>
<text x="236.3" y="434.03" font-size="13.5" font-weight="bold">I</text>
<text x="360.5" y="448.3" font-size="13.7" font-weight="bold" text-anchor="middle" textLength="30" lengthAdjust="spacingAndGlyphs">MEF</text>
<line x1="276.3" y1="461.9" x2="276.3" y2="591.9" stroke="#000" stroke-width="1.5"/>
<line x1="271" y1="461.9" x2="276.3" y2="461.9" stroke="#000" stroke-width="1.5"/>
<text x="269" y="465.27" font-size="9.4" font-weight="bold" text-anchor="end">80</text>
<line x1="271" y1="494.4" x2="276.3" y2="494.4" stroke="#000" stroke-width="1.5"/>
<text x="269" y="497.77" font-size="9.4" font-weight="bold" text-anchor="end">60</text>
<line x1="271" y1="526.9" x2="276.3" y2="526.9" stroke="#000" stroke-width="1.5"/>
<text x="269" y="530.27" font-size="9.4" font-weight="bold" text-anchor="end">40</text>
<line x1="271" y1="559.4" x2="276.3" y2="559.4" stroke="#000" stroke-width="1.5"/>
<text x="269" y="562.77" font-size="9.4" font-weight="bold" text-anchor="end">20</text>
<line x1="271" y1="591.9" x2="276.3" y2="591.9" stroke="#000" stroke-width="1.5"/>
<text x="269" y="595.27" font-size="9.4" font-weight="bold" text-anchor="end">0</text>
<line x1="276.3" y1="591.9" x2="453.3" y2="591.9" stroke="#000" stroke-width="1.45"/>
<line x1="311.6" y1="591.9" x2="311.6" y2="596.7" stroke="#000" stroke-width="1.45"/>
<text x="311.6" y="607.27" font-size="9.4" font-weight="bold" text-anchor="middle">0</text>
<line x1="364.3" y1="591.9" x2="364.3" y2="596.7" stroke="#000" stroke-width="1.45"/>
<text x="364.3" y="607.27" font-size="9.4" font-weight="bold" text-anchor="middle">12</text>
<line x1="417" y1="591.9" x2="417" y2="596.7" stroke="#000" stroke-width="1.45"/>
<text x="417" y="607.27" font-size="9.4" font-weight="bold" text-anchor="middle">24</text>
<text x="360.15" y="625.68" font-size="10" font-weight="bold" text-anchor="middle" textLength="172.9" lengthAdjust="spacingAndGlyphs">Time after dexamethasone release (h)</text>
<text x="252.7" y="529.08" font-size="10" font-weight="bold" text-anchor="middle" textLength="126.8" lengthAdjust="spacingAndGlyphs" transform="rotate(-90 252.7 525.5)">Cells with &gt; 10 RPA foci (%)</text>
<polygon points="313.3,585.4 364.3,577.8 416.4,585.4 416.4,586.4 313.3,586.4" fill="#231f20"/>
<line x1="277.1" y1="500.5" x2="453.3" y2="500.5" stroke="#000" stroke-width="2.6" stroke-dasharray="8,4.2"/>
<line x1="311.6" y1="491.1" x2="311.6" y2="523.4" stroke="#000" stroke-width="1.3"/>
<line x1="307.85" y1="491.1" x2="315.35" y2="491.1" stroke="#000" stroke-width="1.3"/>
<line x1="307.85" y1="523.4" x2="315.35" y2="523.4" stroke="#000" stroke-width="1.3"/>
<line x1="364.3" y1="514.6" x2="364.3" y2="562.6" stroke="#000" stroke-width="1.3"/>
<line x1="360.55" y1="514.6" x2="368.05" y2="514.6" stroke="#000" stroke-width="1.3"/>
<line x1="360.55" y1="562.6" x2="368.05" y2="562.6" stroke="#000" stroke-width="1.3"/>
<line x1="417" y1="472" x2="417" y2="498.8" stroke="#000" stroke-width="1.3"/>
<line x1="413.25" y1="472" x2="420.75" y2="472" stroke="#000" stroke-width="1.3"/>
<line x1="413.25" y1="498.8" x2="420.75" y2="498.8" stroke="#000" stroke-width="1.3"/>
<polyline points="311.6,507.2 364.3,538.5 417,485.4" fill="none" stroke="#000" stroke-width="1.3"/>
<circle cx="311.6" cy="496.5" r="2.7" fill="#e8432e"/>
<circle cx="311.6" cy="503.9" r="2.7" fill="#e8432e"/>
<circle cx="311.6" cy="520" r="2.7" fill="#e8432e"/>
<circle cx="364.3" cy="522.3" r="2.7" fill="#e8432e"/>
<circle cx="364.3" cy="541.8" r="2.7" fill="#e8432e"/>
<circle cx="364.3" cy="556.6" r="2.7" fill="#e8432e"/>
<circle cx="417" cy="477" r="2.7" fill="#e8432e"/>
<circle cx="417" cy="488.8" r="2.7" fill="#e8432e"/>
<circle cx="417" cy="496.5" r="2.7" fill="#e8432e"/>
<polyline points="312.3,473.7 312.3,466.3 361,466.3 361,473.7" fill="none" stroke="#000" stroke-width="1.3"/>
<text x="336.65" y="464.2" font-size="6.7" text-anchor="middle" fill="#111">p=0.0250</text>
<polyline points="365,473.7 365,466.3 416.4,466.3 416.4,473.7" fill="none" stroke="#000" stroke-width="1.3"/>
<text x="390.7" y="464.2" font-size="6.7" text-anchor="middle" fill="#111">p=0.0411</text>
<text x="462.4" y="434.33" font-size="13.5" font-weight="bold">J</text>
<text x="575.4" y="434.4" font-size="13.7" font-weight="bold" text-anchor="middle" textLength="37" lengthAdjust="spacingAndGlyphs">U2OS</text>
<line x1="502" y1="459.4" x2="502" y2="590.1" stroke="#000" stroke-width="1.5"/>
<line x1="496.7" y1="459.4" x2="502" y2="459.4" stroke="#000" stroke-width="1.5"/>
<text x="494.7" y="462.77" font-size="9.4" font-weight="bold" text-anchor="end">50</text>
<line x1="496.7" y1="485.54" x2="502" y2="485.54" stroke="#000" stroke-width="1.5"/>
<text x="494.7" y="488.91" font-size="9.4" font-weight="bold" text-anchor="end">40</text>
<line x1="496.7" y1="511.68" x2="502" y2="511.68" stroke="#000" stroke-width="1.5"/>
<text x="494.7" y="515.05" font-size="9.4" font-weight="bold" text-anchor="end">30</text>
<line x1="496.7" y1="537.82" x2="502" y2="537.82" stroke="#000" stroke-width="1.5"/>
<text x="494.7" y="541.19" font-size="9.4" font-weight="bold" text-anchor="end">20</text>
<line x1="496.7" y1="563.96" x2="502" y2="563.96" stroke="#000" stroke-width="1.5"/>
<text x="494.7" y="567.33" font-size="9.4" font-weight="bold" text-anchor="end">10</text>
<line x1="496.7" y1="590.1" x2="502" y2="590.1" stroke="#000" stroke-width="1.5"/>
<text x="494.7" y="593.47" font-size="9.4" font-weight="bold" text-anchor="end">0</text>
<line x1="502" y1="590.1" x2="647.1" y2="590.1" stroke="#000" stroke-width="1.2"/>
<line x1="524.5" y1="590.1" x2="524.5" y2="594.6" stroke="#000" stroke-width="1.2"/>
<text x="524.5" y="606.71" font-size="9.8" font-weight="bold" text-anchor="middle">0</text>
<line x1="558.1" y1="590.1" x2="558.1" y2="594.6" stroke="#000" stroke-width="1.2"/>
<text x="558.1" y="606.71" font-size="9.8" font-weight="bold" text-anchor="middle">12</text>
<line x1="591" y1="590.1" x2="591" y2="594.6" stroke="#000" stroke-width="1.2"/>
<text x="591" y="606.71" font-size="9.8" font-weight="bold" text-anchor="middle">24</text>
<line x1="624.6" y1="590.1" x2="624.6" y2="594.6" stroke="#000" stroke-width="1.2"/>
<text x="624.6" y="606.71" font-size="9.8" font-weight="bold" text-anchor="middle">Async</text>
<text x="569.5" y="625.88" font-size="10" font-weight="bold" text-anchor="middle" textLength="195.4" lengthAdjust="spacingAndGlyphs">Time after dexamethasone release (h)</text>
<text x="475.1" y="526.98" font-size="10" font-weight="bold" text-anchor="middle" textLength="129" lengthAdjust="spacingAndGlyphs" transform="rotate(-90 475.1 523.4)">Resection length (pixels)</text>
<g fill="#0a0a0a"><circle cx="522.7" cy="521.6" r="1.1"/><circle cx="525.9" cy="521.6" r="1.1"/><circle cx="514.6" cy="527.6" r="1.1"/><circle cx="517.5" cy="527.6" r="1.1"/><circle cx="520.5" cy="527.6" r="1.1"/><circle cx="524" cy="527.6" r="1.1"/><circle cx="527.2" cy="527.6" r="1.1"/><circle cx="530" cy="527.6" r="1.1"/><circle cx="533.6" cy="527.6" r="1.1"/><circle cx="516.5" cy="530.2" r="1.1"/><circle cx="519.5" cy="530.2" r="1.1"/><circle cx="525.5" cy="530.2" r="1.1"/><circle cx="529" cy="530.2" r="1.1"/><circle cx="517.5" cy="536.2" r="1.1"/><circle cx="521" cy="536.2" r="1.1"/><circle cx="524.5" cy="536.2" r="1.1"/><circle cx="528" cy="536.2" r="1.1"/><circle cx="531" cy="536.2" r="1.1"/><circle cx="519.5" cy="539.2" r="1.1"/><circle cx="522" cy="539.2" r="1.1"/><circle cx="524.5" cy="539.2" r="1.1"/><circle cx="527" cy="539.2" r="1.1"/><circle cx="529.5" cy="539.2" r="1.1"/><circle cx="520" cy="546.7" r="1.1"/><circle cx="523" cy="546.7" r="1.1"/><circle cx="526" cy="546.7" r="1.1"/><circle cx="529" cy="546.7" r="1.1"/><circle cx="517" cy="550.6" r="1.1"/><circle cx="520.5" cy="550.6" r="1.1"/><circle cx="524" cy="550.6" r="1.1"/><circle cx="527.5" cy="550.6" r="1.1"/><circle cx="531" cy="550.6" r="1.1"/><circle cx="518.5" cy="553.3" r="1.1"/><circle cx="521.5" cy="553.3" r="1.1"/><circle cx="525" cy="553.3" r="1.1"/><circle cx="528.5" cy="553.3" r="1.1"/><circle cx="517" cy="556.2" r="1.1"/><circle cx="520" cy="556.2" r="1.1"/><circle cx="523" cy="556.2" r="1.1"/><circle cx="526" cy="556.2" r="1.1"/><circle cx="517.4" cy="559.5" r="1.1"/><circle cx="522.7" cy="559.5" r="1.1"/><circle cx="529" cy="559.5" r="1.1"/><circle cx="531.3" cy="559.5" r="1.1"/><circle cx="521.5" cy="533.2" r="1.1"/><circle cx="526.5" cy="533.2" r="1.1"/><circle cx="518" cy="543.5" r="1.1"/><circle cx="530" cy="543.5" r="1.1"/><circle cx="555.76" cy="527.04" r="1.1"/><circle cx="559.14" cy="526.98" r="1.1"/><circle cx="555.5" cy="528.6" r="1.1"/><circle cx="557.92" cy="528.56" r="1.1"/><circle cx="559.21" cy="528.73" r="1.1"/><circle cx="554.86" cy="529.98" r="1.1"/><circle cx="556.97" cy="530.29" r="1.1"/><circle cx="559.57" cy="529.83" r="1.1"/><circle cx="555.26" cy="531.93" r="1.1"/><circle cx="558.3" cy="531.72" r="1.1"/><circle cx="559.46" cy="531.36" r="1.1"/><circle cx="554.32" cy="532.94" r="1.1"/><circle cx="556.05" cy="533.05" r="1.1"/><circle cx="557.92" cy="533.18" r="1.1"/><circle cx="560.25" cy="533.41" r="1.1"/><circle cx="553.67" cy="534.83" r="1.1"/><circle cx="556.35" cy="534.85" r="1.1"/><circle cx="558.14" cy="534.62" r="1.1"/><circle cx="560.4" cy="535.05" r="1.1"/><circle cx="561.22" cy="534.87" r="1.1"/><circle cx="552.86" cy="536.14" r="1.1"/><circle cx="554.99" cy="536.04" r="1.1"/><circle cx="557.51" cy="536.24" r="1.1"/><circle cx="559.72" cy="536.23" r="1.1"/><circle cx="561.96" cy="536.51" r="1.1"/><circle cx="551.96" cy="537.68" r="1.1"/><circle cx="555.54" cy="537.83" r="1.1"/><circle cx="557.57" cy="537.79" r="1.1"/><circle cx="558.82" cy="537.93" r="1.1"/><circle cx="561.36" cy="537.71" r="1.1"/><circle cx="561.91" cy="537.75" r="1.1"/><circle cx="552.17" cy="539.55" r="1.1"/><circle cx="553.33" cy="539.25" r="1.1"/><circle cx="555.15" cy="539.14" r="1.1"/><circle cx="557.54" cy="539.21" r="1.1"/><circle cx="559.18" cy="539.37" r="1.1"/><circle cx="560.72" cy="539.54" r="1.1"/><circle cx="562.5" cy="539.49" r="1.1"/><circle cx="550.94" cy="540.9" r="1.1"/><circle cx="553.91" cy="540.81" r="1.1"/><circle cx="556.53" cy="541.13" r="1.1"/><circle cx="558.02" cy="541.18" r="1.1"/><circle cx="559.96" cy="540.89" r="1.1"/><circle cx="562.49" cy="541.04" r="1.1"/><circle cx="563.03" cy="541.24" r="1.1"/><circle cx="550.46" cy="542.35" r="1.1"/><circle cx="552.8" cy="542.4" r="1.1"/><circle cx="554.31" cy="542.24" r="1.1"/><circle cx="556.03" cy="542.55" r="1.1"/><circle cx="558.04" cy="542.56" r="1.1"/><circle cx="560.03" cy="542.47" r="1.1"/><circle cx="562.39" cy="542.49" r="1.1"/><circle cx="563.97" cy="542.72" r="1.1"/><circle cx="549.89" cy="543.84" r="1.1"/><circle cx="553.13" cy="544.24" r="1.1"/><circle cx="554.39" cy="543.86" r="1.1"/><circle cx="556.58" cy="544.31" r="1.1"/><circle cx="557.93" cy="544.32" r="1.1"/><circle cx="560.27" cy="544.11" r="1.1"/><circle cx="561.69" cy="543.81" r="1.1"/><circle cx="563.18" cy="544.33" r="1.1"/><circle cx="564.25" cy="544.17" r="1.1"/><circle cx="549.43" cy="545.79" r="1.1"/><circle cx="551.62" cy="545.48" r="1.1"/><circle cx="553.2" cy="545.73" r="1.1"/><circle cx="555.04" cy="545.44" r="1.1"/><circle cx="557.35" cy="545.81" r="1.1"/><circle cx="559.31" cy="545.47" r="1.1"/><circle cx="561.47" cy="545.42" r="1.1"/><circle cx="562.67" cy="545.46" r="1.1"/><circle cx="564.93" cy="545.34" r="1.1"/><circle cx="548.93" cy="547.07" r="1.1"/><circle cx="551.92" cy="546.93" r="1.1"/><circle cx="553.56" cy="547.38" r="1.1"/><circle cx="555.85" cy="547.24" r="1.1"/><circle cx="557.43" cy="547.2" r="1.1"/><circle cx="558.79" cy="546.87" r="1.1"/><circle cx="560.49" cy="547.4" r="1.1"/><circle cx="562.84" cy="547.43" r="1.1"/><circle cx="564.1" cy="547.23" r="1.1"/><circle cx="565.4" cy="547.29" r="1.1"/><circle cx="548.6" cy="549" r="1.1"/><circle cx="550.3" cy="548.73" r="1.1"/><circle cx="552.74" cy="548.94" r="1.1"/><circle cx="554.64" cy="548.82" r="1.1"/><circle cx="556.58" cy="548.95" r="1.1"/><circle cx="558.13" cy="548.81" r="1.1"/><circle cx="560.47" cy="548.92" r="1.1"/><circle cx="561.99" cy="548.87" r="1.1"/><circle cx="564.25" cy="548.74" r="1.1"/><circle cx="565.96" cy="548.63" r="1.1"/><circle cx="548.37" cy="550.32" r="1.1"/><circle cx="550.64" cy="550.33" r="1.1"/><circle cx="553.17" cy="550.48" r="1.1"/><circle cx="554.76" cy="550.18" r="1.1"/><circle cx="556.56" cy="550.3" r="1.1"/><circle cx="558.13" cy="550.45" r="1.1"/><circle cx="559.64" cy="550.4" r="1.1"/><circle cx="561.4" cy="550.31" r="1.1"/><circle cx="563.56" cy="550.09" r="1.1"/><circle cx="565.53" cy="550.25" r="1.1"/><circle cx="566.39" cy="550.5" r="1.1"/><circle cx="547.66" cy="551.51" r="1.1"/><circle cx="549.59" cy="551.91" r="1.1"/><circle cx="551.4" cy="551.6" r="1.1"/><circle cx="553.85" cy="551.9" r="1.1"/><circle cx="555.36" cy="552.04" r="1.1"/><circle cx="557.16" cy="551.9" r="1.1"/><circle cx="558.95" cy="551.76" r="1.1"/><circle cx="561.32" cy="552.05" r="1.1"/><circle cx="563.27" cy="551.73" r="1.1"/><circle cx="564.92" cy="551.69" r="1.1"/><circle cx="566.45" cy="551.8" r="1.1"/><circle cx="547.96" cy="553.56" r="1.1"/><circle cx="550.65" cy="553.62" r="1.1"/><circle cx="552.23" cy="553.15" r="1.1"/><circle cx="554.29" cy="553.22" r="1.1"/><circle cx="556.02" cy="553.3" r="1.1"/><circle cx="558.28" cy="553.35" r="1.1"/><circle cx="559.95" cy="553.55" r="1.1"/><circle cx="562.41" cy="553.32" r="1.1"/><circle cx="563.6" cy="553.07" r="1.1"/><circle cx="566.16" cy="553.07" r="1.1"/><circle cx="567.08" cy="553.39" r="1.1"/><circle cx="547.41" cy="555.07" r="1.1"/><circle cx="548.94" cy="554.68" r="1.1"/><circle cx="551.06" cy="554.61" r="1.1"/><circle cx="553.14" cy="554.74" r="1.1"/><circle cx="554.36" cy="554.63" r="1.1"/><circle cx="556.52" cy="554.87" r="1.1"/><circle cx="558.29" cy="554.99" r="1.1"/><circle cx="560.2" cy="555.18" r="1.1"/><circle cx="561.88" cy="554.72" r="1.1"/><circle cx="563.48" cy="554.71" r="1.1"/><circle cx="564.88" cy="554.88" r="1.1"/><circle cx="567.21" cy="554.71" r="1.1"/><circle cx="547.25" cy="556.36" r="1.1"/><circle cx="550.26" cy="556.46" r="1.1"/><circle cx="551.99" cy="556.6" r="1.1"/><circle cx="553.6" cy="556.63" r="1.1"/><circle cx="555.81" cy="556.2" r="1.1"/><circle cx="557.62" cy="556.58" r="1.1"/><circle cx="558.78" cy="556.42" r="1.1"/><circle cx="560.97" cy="556.7" r="1.1"/><circle cx="562.56" cy="556.49" r="1.1"/><circle cx="564.76" cy="556.63" r="1.1"/><circle cx="566.61" cy="556.43" r="1.1"/><circle cx="567.29" cy="556.27" r="1.1"/><circle cx="547.48" cy="558.19" r="1.1"/><circle cx="549.23" cy="558.13" r="1.1"/><circle cx="550.71" cy="558.24" r="1.1"/><circle cx="553.14" cy="558.29" r="1.1"/><circle cx="554.6" cy="558.17" r="1.1"/><circle cx="556.25" cy="558.25" r="1.1"/><circle cx="558.49" cy="557.91" r="1.1"/><circle cx="559.69" cy="557.96" r="1.1"/><circle cx="561.89" cy="558.16" r="1.1"/><circle cx="563.65" cy="557.72" r="1.1"/><circle cx="565.73" cy="557.74" r="1.1"/><circle cx="567.54" cy="557.8" r="1.1"/><circle cx="547.43" cy="559.72" r="1.1"/><circle cx="549.92" cy="559.34" r="1.1"/><circle cx="551.99" cy="559.68" r="1.1"/><circle cx="554.02" cy="559.66" r="1.1"/><circle cx="555.87" cy="559.55" r="1.1"/><circle cx="557.65" cy="559.3" r="1.1"/><circle cx="558.84" cy="559.57" r="1.1"/><circle cx="560.66" cy="559.69" r="1.1"/><circle cx="562.71" cy="559.56" r="1.1"/><circle cx="564.65" cy="559.59" r="1.1"/><circle cx="565.99" cy="559.48" r="1.1"/><circle cx="567.32" cy="559.79" r="1.1"/><circle cx="547.58" cy="561.31" r="1.1"/><circle cx="550.09" cy="561.11" r="1.1"/><circle cx="551.67" cy="560.92" r="1.1"/><circle cx="553.54" cy="561.1" r="1.1"/><circle cx="555.49" cy="560.82" r="1.1"/><circle cx="557.68" cy="561.11" r="1.1"/><circle cx="559.12" cy="561.28" r="1.1"/><circle cx="561.14" cy="561.09" r="1.1"/><circle cx="563.14" cy="560.84" r="1.1"/><circle cx="564.92" cy="561.05" r="1.1"/><circle cx="567.15" cy="561.35" r="1.1"/><circle cx="547.89" cy="562.63" r="1.1"/><circle cx="550.5" cy="562.61" r="1.1"/><circle cx="552.89" cy="562.89" r="1.1"/><circle cx="554.47" cy="562.54" r="1.1"/><circle cx="556.08" cy="562.72" r="1.1"/><circle cx="558.52" cy="562.43" r="1.1"/><circle cx="560.24" cy="562.36" r="1.1"/><circle cx="561.62" cy="562.49" r="1.1"/><circle cx="563.86" cy="562.54" r="1.1"/><circle cx="565.44" cy="562.72" r="1.1"/><circle cx="566.21" cy="562.79" r="1.1"/><circle cx="548.2" cy="564.21" r="1.1"/><circle cx="550.06" cy="564.02" r="1.1"/><circle cx="552.04" cy="564.16" r="1.1"/><circle cx="553.68" cy="564.15" r="1.1"/><circle cx="555.56" cy="564" r="1.1"/><circle cx="557.06" cy="564.28" r="1.1"/><circle cx="559.17" cy="564.22" r="1.1"/><circle cx="561.1" cy="564.27" r="1.1"/><circle cx="562.87" cy="564.04" r="1.1"/><circle cx="564.53" cy="564.39" r="1.1"/><circle cx="566.42" cy="564.09" r="1.1"/><circle cx="549.9" cy="566" r="1.1"/><circle cx="552.51" cy="566.05" r="1.1"/><circle cx="554.86" cy="565.53" r="1.1"/><circle cx="556.15" cy="565.89" r="1.1"/><circle cx="557.98" cy="565.51" r="1.1"/><circle cx="560.25" cy="565.7" r="1.1"/><circle cx="562.03" cy="565.53" r="1.1"/><circle cx="563.53" cy="565.86" r="1.1"/><circle cx="564.16" cy="565.57" r="1.1"/><circle cx="551.75" cy="567.55" r="1.1"/><circle cx="553.87" cy="567.07" r="1.1"/><circle cx="555.4" cy="567.45" r="1.1"/><circle cx="557.3" cy="567.41" r="1.1"/><circle cx="558.95" cy="567.04" r="1.1"/><circle cx="560.78" cy="567.02" r="1.1"/><circle cx="563.04" cy="567.31" r="1.1"/><circle cx="553.2" cy="568.64" r="1.1"/><circle cx="555.85" cy="568.67" r="1.1"/><circle cx="558.45" cy="569.14" r="1.1"/><circle cx="560.59" cy="568.61" r="1.1"/><circle cx="561.1" cy="569.12" r="1.1"/><circle cx="554.67" cy="570.56" r="1.1"/><circle cx="557.16" cy="570.38" r="1.1"/><circle cx="559.91" cy="570.36" r="1.1"/><circle cx="557.3" cy="510.3" r="1.1"/><circle cx="558.1" cy="511.5" r="1.1"/><circle cx="557.3" cy="518.6" r="1.1"/><circle cx="557.3" cy="523.5" r="1.1"/><circle cx="557.3" cy="578.3" r="1.1"/><circle cx="589.08" cy="510.21" r="1.1"/><circle cx="591.16" cy="510.71" r="1.1"/><circle cx="588.1" cy="512.02" r="1.1"/><circle cx="591.84" cy="511.99" r="1.1"/><circle cx="587.46" cy="513.4" r="1.1"/><circle cx="590.01" cy="513.31" r="1.1"/><circle cx="592.61" cy="513.78" r="1.1"/><circle cx="587.23" cy="515.37" r="1.1"/><circle cx="590" cy="515.09" r="1.1"/><circle cx="591.93" cy="515.15" r="1.1"/><circle cx="593.32" cy="515.33" r="1.1"/><circle cx="586.28" cy="516.95" r="1.1"/><circle cx="588.43" cy="516.87" r="1.1"/><circle cx="590.25" cy="516.64" r="1.1"/><circle cx="592.08" cy="516.93" r="1.1"/><circle cx="593.69" cy="516.86" r="1.1"/><circle cx="586.09" cy="518.19" r="1.1"/><circle cx="588.99" cy="517.99" r="1.1"/><circle cx="590.75" cy="518.23" r="1.1"/><circle cx="592.54" cy="518.16" r="1.1"/><circle cx="594.23" cy="518.32" r="1.1"/><circle cx="585.08" cy="520.07" r="1.1"/><circle cx="587.31" cy="519.7" r="1.1"/><circle cx="589.19" cy="519.84" r="1.1"/><circle cx="590.97" cy="519.73" r="1.1"/><circle cx="593.22" cy="519.89" r="1.1"/><circle cx="594.87" cy="519.96" r="1.1"/><circle cx="585.09" cy="521.06" r="1.1"/><circle cx="587.44" cy="521.49" r="1.1"/><circle cx="588.92" cy="521.29" r="1.1"/><circle cx="590.52" cy="521.17" r="1.1"/><circle cx="592.54" cy="521.11" r="1.1"/><circle cx="594.2" cy="521.59" r="1.1"/><circle cx="595.33" cy="521.35" r="1.1"/><circle cx="585.17" cy="522.94" r="1.1"/><circle cx="587.27" cy="522.98" r="1.1"/><circle cx="589.21" cy="522.65" r="1.1"/><circle cx="591.12" cy="523.06" r="1.1"/><circle cx="592.76" cy="523.16" r="1.1"/><circle cx="594.93" cy="522.88" r="1.1"/><circle cx="584.99" cy="524.45" r="1.1"/><circle cx="588.11" cy="524.19" r="1.1"/><circle cx="590.28" cy="524.4" r="1.1"/><circle cx="591.85" cy="524.51" r="1.1"/><circle cx="593.62" cy="524.32" r="1.1"/><circle cx="594.87" cy="524.49" r="1.1"/><circle cx="585.53" cy="526.13" r="1.1"/><circle cx="587.69" cy="525.71" r="1.1"/><circle cx="589.8" cy="525.73" r="1.1"/><circle cx="591.87" cy="526.15" r="1.1"/><circle cx="594.21" cy="526.24" r="1.1"/><circle cx="585.99" cy="527.28" r="1.1"/><circle cx="589.16" cy="527.82" r="1.1"/><circle cx="590.53" cy="527.79" r="1.1"/><circle cx="592.92" cy="527.54" r="1.1"/><circle cx="594.59" cy="527.4" r="1.1"/><circle cx="585.22" cy="529.36" r="1.1"/><circle cx="587.3" cy="529.08" r="1.1"/><circle cx="589.42" cy="529.29" r="1.1"/><circle cx="591.04" cy="528.87" r="1.1"/><circle cx="592.98" cy="529.07" r="1.1"/><circle cx="594.56" cy="528.83" r="1.1"/><circle cx="584.64" cy="530.42" r="1.1"/><circle cx="587.24" cy="530.75" r="1.1"/><circle cx="589.05" cy="530.51" r="1.1"/><circle cx="590.94" cy="530.6" r="1.1"/><circle cx="592.89" cy="530.67" r="1.1"/><circle cx="594.86" cy="530.92" r="1.1"/><circle cx="595.57" cy="530.49" r="1.1"/><circle cx="583.72" cy="532.44" r="1.1"/><circle cx="586.25" cy="532.27" r="1.1"/><circle cx="587.9" cy="532.06" r="1.1"/><circle cx="590.15" cy="532.24" r="1.1"/><circle cx="592.06" cy="532.28" r="1.1"/><circle cx="594.18" cy="532.01" r="1.1"/><circle cx="595.77" cy="532.49" r="1.1"/><circle cx="583.82" cy="533.98" r="1.1"/><circle cx="585.85" cy="533.49" r="1.1"/><circle cx="587.9" cy="533.71" r="1.1"/><circle cx="590.04" cy="533.51" r="1.1"/><circle cx="591.84" cy="533.49" r="1.1"/><circle cx="593.34" cy="533.86" r="1.1"/><circle cx="595.57" cy="533.83" r="1.1"/><circle cx="596.42" cy="533.74" r="1.1"/><circle cx="583.08" cy="535.21" r="1.1"/><circle cx="585.42" cy="535.5" r="1.1"/><circle cx="586.79" cy="535.07" r="1.1"/><circle cx="589.29" cy="535.37" r="1.1"/><circle cx="591.17" cy="535.13" r="1.1"/><circle cx="592.81" cy="535.15" r="1.1"/><circle cx="595.03" cy="535.22" r="1.1"/><circle cx="596.82" cy="535.59" r="1.1"/><circle cx="582.99" cy="536.88" r="1.1"/><circle cx="586.17" cy="537.1" r="1.1"/><circle cx="587.87" cy="536.77" r="1.1"/><circle cx="589.57" cy="537.08" r="1.1"/><circle cx="591.52" cy="536.6" r="1.1"/><circle cx="593.87" cy="536.84" r="1.1"/><circle cx="595.93" cy="536.73" r="1.1"/><circle cx="597.09" cy="536.6" r="1.1"/><circle cx="582.8" cy="538.5" r="1.1"/><circle cx="584.69" cy="538.28" r="1.1"/><circle cx="587.19" cy="538.52" r="1.1"/><circle cx="588.83" cy="538.19" r="1.1"/><circle cx="590.88" cy="538.54" r="1.1"/><circle cx="592.88" cy="538.17" r="1.1"/><circle cx="595.14" cy="538.44" r="1.1"/><circle cx="597.3" cy="538.66" r="1.1"/><circle cx="583.49" cy="539.91" r="1.1"/><circle cx="586.23" cy="539.83" r="1.1"/><circle cx="587.8" cy="539.89" r="1.1"/><circle cx="590.25" cy="540.19" r="1.1"/><circle cx="591.65" cy="539.87" r="1.1"/><circle cx="593.7" cy="539.87" r="1.1"/><circle cx="595.68" cy="539.88" r="1.1"/><circle cx="596.59" cy="539.99" r="1.1"/><circle cx="583.53" cy="541.52" r="1.1"/><circle cx="585.48" cy="541.54" r="1.1"/><circle cx="586.87" cy="541.66" r="1.1"/><circle cx="589.35" cy="541.37" r="1.1"/><circle cx="590.58" cy="541.51" r="1.1"/><circle cx="592.91" cy="541.54" r="1.1"/><circle cx="595.16" cy="541.59" r="1.1"/><circle cx="596.95" cy="541.24" r="1.1"/><circle cx="583.46" cy="543.22" r="1.1"/><circle cx="585.84" cy="542.8" r="1.1"/><circle cx="588.25" cy="543.29" r="1.1"/><circle cx="589.6" cy="543.13" r="1.1"/><circle cx="591.53" cy="543.2" r="1.1"/><circle cx="593.81" cy="542.9" r="1.1"/><circle cx="595.35" cy="543.21" r="1.1"/><circle cx="596.6" cy="543.21" r="1.1"/><circle cx="582.96" cy="544.5" r="1.1"/><circle cx="585.41" cy="544.7" r="1.1"/><circle cx="587.02" cy="544.62" r="1.1"/><circle cx="589.18" cy="544.72" r="1.1"/><circle cx="591.33" cy="544.55" r="1.1"/><circle cx="593.24" cy="544.7" r="1.1"/><circle cx="595.25" cy="544.78" r="1.1"/><circle cx="597.22" cy="544.83" r="1.1"/><circle cx="582.24" cy="546.23" r="1.1"/><circle cx="584.58" cy="546.28" r="1.1"/><circle cx="586.6" cy="546.1" r="1.1"/><circle cx="588.1" cy="545.94" r="1.1"/><circle cx="590.17" cy="546.44" r="1.1"/><circle cx="591.68" cy="545.95" r="1.1"/><circle cx="593.35" cy="546.1" r="1.1"/><circle cx="595.22" cy="546.43" r="1.1"/><circle cx="596.84" cy="546.04" r="1.1"/><circle cx="597.81" cy="546.24" r="1.1"/><circle cx="580.93" cy="547.51" r="1.1"/><circle cx="582.22" cy="547.68" r="1.1"/><circle cx="584.49" cy="547.95" r="1.1"/><circle cx="585.91" cy="547.47" r="1.1"/><circle cx="587.89" cy="547.53" r="1.1"/><circle cx="589.79" cy="547.83" r="1.1"/><circle cx="591.93" cy="547.53" r="1.1"/><circle cx="593.46" cy="547.57" r="1.1"/><circle cx="595.31" cy="547.85" r="1.1"/><circle cx="597.28" cy="547.73" r="1.1"/><circle cx="599.55" cy="547.69" r="1.1"/><circle cx="579.35" cy="549.48" r="1.1"/><circle cx="582.65" cy="549.16" r="1.1"/><circle cx="584.26" cy="549.52" r="1.1"/><circle cx="586.11" cy="549.08" r="1.1"/><circle cx="587.66" cy="549.52" r="1.1"/><circle cx="590.17" cy="549.18" r="1.1"/><circle cx="591.85" cy="549.26" r="1.1"/><circle cx="593.55" cy="549.54" r="1.1"/><circle cx="595.76" cy="549.09" r="1.1"/><circle cx="597.14" cy="549.23" r="1.1"/><circle cx="599.33" cy="549.43" r="1.1"/><circle cx="600.63" cy="549.31" r="1.1"/><circle cx="579.98" cy="550.59" r="1.1"/><circle cx="581.88" cy="550.66" r="1.1"/><circle cx="584.09" cy="550.81" r="1.1"/><circle cx="585.68" cy="551.1" r="1.1"/><circle cx="587.15" cy="550.82" r="1.1"/><circle cx="588.83" cy="550.96" r="1.1"/><circle cx="590.49" cy="550.99" r="1.1"/><circle cx="592.94" cy="550.99" r="1.1"/><circle cx="594.1" cy="550.66" r="1.1"/><circle cx="596.38" cy="550.56" r="1.1"/><circle cx="597.96" cy="550.78" r="1.1"/><circle cx="600.11" cy="550.85" r="1.1"/><circle cx="581.31" cy="552.23" r="1.1"/><circle cx="583.93" cy="552.3" r="1.1"/><circle cx="585.82" cy="552.1" r="1.1"/><circle cx="587.55" cy="552.18" r="1.1"/><circle cx="589.11" cy="552.37" r="1.1"/><circle cx="590.6" cy="552.55" r="1.1"/><circle cx="592.52" cy="552.24" r="1.1"/><circle cx="594.13" cy="552.23" r="1.1"/><circle cx="596.23" cy="552.48" r="1.1"/><circle cx="597.94" cy="552.46" r="1.1"/><circle cx="598.66" cy="552.29" r="1.1"/><circle cx="581.93" cy="554.18" r="1.1"/><circle cx="584.01" cy="553.99" r="1.1"/><circle cx="585.14" cy="553.83" r="1.1"/><circle cx="587.49" cy="553.74" r="1.1"/><circle cx="589.16" cy="553.87" r="1.1"/><circle cx="590.5" cy="554.19" r="1.1"/><circle cx="592.92" cy="553.72" r="1.1"/><circle cx="594.56" cy="553.77" r="1.1"/><circle cx="596.15" cy="553.92" r="1.1"/><circle cx="597.88" cy="553.8" r="1.1"/><circle cx="583.07" cy="555.55" r="1.1"/><circle cx="585.79" cy="555.27" r="1.1"/><circle cx="588.13" cy="555.35" r="1.1"/><circle cx="590.25" cy="555.49" r="1.1"/><circle cx="592.03" cy="555.35" r="1.1"/><circle cx="594.07" cy="555.21" r="1.1"/><circle cx="595.48" cy="555.21" r="1.1"/><circle cx="596.99" cy="555.57" r="1.1"/><circle cx="584.09" cy="556.94" r="1.1"/><circle cx="586.5" cy="557.06" r="1.1"/><circle cx="587.79" cy="556.84" r="1.1"/><circle cx="589.73" cy="556.77" r="1.1"/><circle cx="591.81" cy="556.74" r="1.1"/><circle cx="594.11" cy="556.96" r="1.1"/><circle cx="595.66" cy="557.09" r="1.1"/><circle cx="585.73" cy="558.74" r="1.1"/><circle cx="588.09" cy="558.45" r="1.1"/><circle cx="589.91" cy="558.26" r="1.1"/><circle cx="591.69" cy="558.67" r="1.1"/><circle cx="593.95" cy="558.72" r="1.1"/><circle cx="594.61" cy="558.62" r="1.1"/><circle cx="585.58" cy="560" r="1.1"/><circle cx="587.85" cy="560.19" r="1.1"/><circle cx="589.69" cy="560.03" r="1.1"/><circle cx="592.03" cy="560.27" r="1.1"/><circle cx="594.3" cy="560.17" r="1.1"/><circle cx="586.14" cy="561.81" r="1.1"/><circle cx="589.4" cy="561.68" r="1.1"/><circle cx="590.76" cy="561.65" r="1.1"/><circle cx="592.38" cy="561.78" r="1.1"/><circle cx="593.98" cy="561.66" r="1.1"/><circle cx="587.03" cy="563.4" r="1.1"/><circle cx="588.71" cy="563.47" r="1.1"/><circle cx="591.15" cy="563.02" r="1.1"/><circle cx="592.81" cy="563.05" r="1.1"/><circle cx="587.38" cy="564.87" r="1.1"/><circle cx="589.84" cy="565.01" r="1.1"/><circle cx="591.66" cy="564.73" r="1.1"/><circle cx="592.38" cy="565.03" r="1.1"/><circle cx="587.5" cy="566.54" r="1.1"/><circle cx="590.03" cy="566.34" r="1.1"/><circle cx="592.26" cy="566.16" r="1.1"/><circle cx="590" cy="481.5" r="1.1"/><circle cx="590" cy="486.5" r="1.1"/><circle cx="590" cy="493.5" r="1.1"/><circle cx="589" cy="504.2" r="1.1"/><circle cx="591" cy="504.2" r="1.1"/><circle cx="590" cy="572.2" r="1.1"/><circle cx="622.83" cy="528.1" r="1.1"/><circle cx="624.75" cy="527.86" r="1.1"/><circle cx="626.2" cy="527.99" r="1.1"/><circle cx="620.14" cy="529.59" r="1.1"/><circle cx="623.07" cy="529.39" r="1.1"/><circle cx="625.64" cy="529.16" r="1.1"/><circle cx="627.51" cy="529.1" r="1.1"/><circle cx="628.31" cy="529.16" r="1.1"/><circle cx="618.52" cy="531.16" r="1.1"/><circle cx="620.08" cy="530.78" r="1.1"/><circle cx="621.91" cy="531.04" r="1.1"/><circle cx="623.5" cy="530.96" r="1.1"/><circle cx="625.65" cy="530.61" r="1.1"/><circle cx="626.99" cy="530.88" r="1.1"/><circle cx="628.77" cy="530.83" r="1.1"/><circle cx="630.93" cy="530.7" r="1.1"/><circle cx="617.92" cy="532.31" r="1.1"/><circle cx="620.72" cy="532.35" r="1.1"/><circle cx="622.66" cy="532.17" r="1.1"/><circle cx="624.57" cy="532.24" r="1.1"/><circle cx="626.68" cy="532.51" r="1.1"/><circle cx="628.18" cy="532.4" r="1.1"/><circle cx="630.18" cy="532.56" r="1.1"/><circle cx="631.3" cy="532.6" r="1.1"/><circle cx="619.78" cy="534.3" r="1.1"/><circle cx="621.94" cy="534.21" r="1.1"/><circle cx="623.48" cy="533.96" r="1.1"/><circle cx="625.5" cy="534.24" r="1.1"/><circle cx="627.35" cy="534.02" r="1.1"/><circle cx="629.16" cy="534.24" r="1.1"/><circle cx="620.24" cy="535.28" r="1.1"/><circle cx="623.5" cy="535.79" r="1.1"/><circle cx="625.56" cy="535.61" r="1.1"/><circle cx="627.63" cy="535.43" r="1.1"/><circle cx="628.69" cy="535.29" r="1.1"/><circle cx="618.35" cy="537.07" r="1.1"/><circle cx="620.6" cy="537.04" r="1.1"/><circle cx="622.19" cy="537.22" r="1.1"/><circle cx="624.52" cy="536.94" r="1.1"/><circle cx="626.3" cy="537.04" r="1.1"/><circle cx="628.19" cy="536.84" r="1.1"/><circle cx="630.68" cy="537.38" r="1.1"/><circle cx="617.04" cy="538.87" r="1.1"/><circle cx="619.62" cy="538.83" r="1.1"/><circle cx="621.36" cy="538.8" r="1.1"/><circle cx="623.53" cy="538.89" r="1.1"/><circle cx="625.05" cy="538.83" r="1.1"/><circle cx="626.97" cy="538.67" r="1.1"/><circle cx="629.53" cy="538.35" r="1.1"/><circle cx="630.86" cy="538.53" r="1.1"/><circle cx="631.95" cy="538.39" r="1.1"/><circle cx="615.49" cy="540.39" r="1.1"/><circle cx="616.96" cy="540.11" r="1.1"/><circle cx="618.97" cy="539.93" r="1.1"/><circle cx="620.39" cy="540.44" r="1.1"/><circle cx="622.48" cy="540.2" r="1.1"/><circle cx="624.85" cy="540.49" r="1.1"/><circle cx="626.34" cy="540.02" r="1.1"/><circle cx="628.07" cy="540.45" r="1.1"/><circle cx="630.41" cy="540.02" r="1.1"/><circle cx="632.23" cy="540.11" r="1.1"/><circle cx="633.81" cy="540" r="1.1"/><circle cx="615.26" cy="542.05" r="1.1"/><circle cx="617.5" cy="541.83" r="1.1"/><circle cx="619.4" cy="541.98" r="1.1"/><circle cx="621.2" cy="541.51" r="1.1"/><circle cx="623.65" cy="541.64" r="1.1"/><circle cx="625.7" cy="541.97" r="1.1"/><circle cx="627.46" cy="541.53" r="1.1"/><circle cx="629.35" cy="542.01" r="1.1"/><circle cx="631.06" cy="541.5" r="1.1"/><circle cx="632.79" cy="541.63" r="1.1"/><circle cx="634.22" cy="541.57" r="1.1"/><circle cx="615.44" cy="543.14" r="1.1"/><circle cx="617.58" cy="543.47" r="1.1"/><circle cx="619.11" cy="543.4" r="1.1"/><circle cx="621.28" cy="543.35" r="1.1"/><circle cx="622.52" cy="543.18" r="1.1"/><circle cx="624.84" cy="543.4" r="1.1"/><circle cx="626.08" cy="543.38" r="1.1"/><circle cx="627.7" cy="543.59" r="1.1"/><circle cx="629.74" cy="543.32" r="1.1"/><circle cx="631.57" cy="543.03" r="1.1"/><circle cx="633.39" cy="543.17" r="1.1"/><circle cx="616.23" cy="545.03" r="1.1"/><circle cx="618.77" cy="544.72" r="1.1"/><circle cx="621.1" cy="544.7" r="1.1"/><circle cx="622.51" cy="544.88" r="1.1"/><circle cx="624.23" cy="545.09" r="1.1"/><circle cx="626.66" cy="544.57" r="1.1"/><circle cx="628.03" cy="545" r="1.1"/><circle cx="629.77" cy="545.11" r="1.1"/><circle cx="631.65" cy="544.66" r="1.1"/><circle cx="632.62" cy="544.94" r="1.1"/><circle cx="617.36" cy="546.49" r="1.1"/><circle cx="619.46" cy="546.41" r="1.1"/><circle cx="620.99" cy="546.61" r="1.1"/><circle cx="622.89" cy="546.41" r="1.1"/><circle cx="624.86" cy="546.2" r="1.1"/><circle cx="626.48" cy="546.2" r="1.1"/><circle cx="628.1" cy="546.24" r="1.1"/><circle cx="629.72" cy="546.56" r="1.1"/><circle cx="631.75" cy="546.57" r="1.1"/><circle cx="618.35" cy="547.94" r="1.1"/><circle cx="621.19" cy="548" r="1.1"/><circle cx="623.39" cy="547.67" r="1.1"/><circle cx="625.45" cy="548.08" r="1.1"/><circle cx="627.41" cy="548.17" r="1.1"/><circle cx="629.08" cy="547.74" r="1.1"/><circle cx="630.06" cy="547.95" r="1.1"/><circle cx="619.3" cy="549.47" r="1.1"/><circle cx="621.22" cy="549.68" r="1.1"/><circle cx="623.13" cy="549.74" r="1.1"/><circle cx="625.59" cy="549.53" r="1.1"/><circle cx="627.82" cy="549.34" r="1.1"/><circle cx="629.37" cy="549.39" r="1.1"/><circle cx="617.82" cy="550.94" r="1.1"/><circle cx="620.96" cy="551.07" r="1.1"/><circle cx="622.48" cy="551.1" r="1.1"/><circle cx="624.14" cy="551.24" r="1.1"/><circle cx="626.01" cy="550.9" r="1.1"/><circle cx="627.81" cy="551.16" r="1.1"/><circle cx="630.15" cy="551.22" r="1.1"/><circle cx="630.46" cy="551" r="1.1"/><circle cx="616.92" cy="552.43" r="1.1"/><circle cx="619.27" cy="552.33" r="1.1"/><circle cx="620.75" cy="552.76" r="1.1"/><circle cx="623.02" cy="552.39" r="1.1"/><circle cx="624.46" cy="552.75" r="1.1"/><circle cx="626" cy="552.44" r="1.1"/><circle cx="628.55" cy="552.38" r="1.1"/><circle cx="630.02" cy="552.48" r="1.1"/><circle cx="631.91" cy="552.35" r="1.1"/><circle cx="616.7" cy="554.45" r="1.1"/><circle cx="620.01" cy="554.29" r="1.1"/><circle cx="621.44" cy="554" r="1.1"/><circle cx="623.56" cy="554" r="1.1"/><circle cx="625.34" cy="554.41" r="1.1"/><circle cx="627.12" cy="554.05" r="1.1"/><circle cx="629.47" cy="554.22" r="1.1"/><circle cx="630.58" cy="554.09" r="1.1"/><circle cx="632.05" cy="553.89" r="1.1"/><circle cx="617.99" cy="555.82" r="1.1"/><circle cx="620.23" cy="555.75" r="1.1"/><circle cx="622.07" cy="555.68" r="1.1"/><circle cx="623.5" cy="555.91" r="1.1"/><circle cx="625.32" cy="555.87" r="1.1"/><circle cx="627.01" cy="555.61" r="1.1"/><circle cx="628.81" cy="555.73" r="1.1"/><circle cx="630.62" cy="555.52" r="1.1"/><circle cx="618.93" cy="557.23" r="1.1"/><circle cx="621.66" cy="557.22" r="1.1"/><circle cx="623.99" cy="557.36" r="1.1"/><circle cx="625.67" cy="557.07" r="1.1"/><circle cx="627.06" cy="556.99" r="1.1"/><circle cx="629.09" cy="557.17" r="1.1"/><circle cx="629.66" cy="556.96" r="1.1"/><circle cx="619.83" cy="558.66" r="1.1"/><circle cx="621.77" cy="559.05" r="1.1"/><circle cx="623.79" cy="558.66" r="1.1"/><circle cx="625.27" cy="558.59" r="1.1"/><circle cx="627.5" cy="558.72" r="1.1"/><circle cx="629.13" cy="558.93" r="1.1"/><circle cx="620.86" cy="560.06" r="1.1"/><circle cx="623.25" cy="560.28" r="1.1"/><circle cx="625.04" cy="560.58" r="1.1"/><circle cx="627.22" cy="560.51" r="1.1"/><circle cx="628.48" cy="560.08" r="1.1"/><circle cx="620.9" cy="561.74" r="1.1"/><circle cx="622.37" cy="561.69" r="1.1"/><circle cx="624.58" cy="561.62" r="1.1"/><circle cx="626.11" cy="561.85" r="1.1"/><circle cx="628.05" cy="561.68" r="1.1"/><circle cx="621.59" cy="563.31" r="1.1"/><circle cx="624.53" cy="563.55" r="1.1"/><circle cx="626.12" cy="563.27" r="1.1"/><circle cx="627.4" cy="563.58" r="1.1"/><circle cx="622.72" cy="564.93" r="1.1"/><circle cx="626.49" cy="564.84" r="1.1"/><circle cx="624.5" cy="573.2" r="1.1"/></g>
<line x1="514.3" y1="542.9" x2="534.7" y2="542.9" stroke="#c8202a" stroke-width="2.6"/>
<line x1="547.4" y1="551.9" x2="567.4" y2="551.9" stroke="#c8202a" stroke-width="2.6"/>
<line x1="580.1" y1="538.7" x2="600.1" y2="538.7" stroke="#c8202a" stroke-width="2.6"/>
<line x1="614" y1="545.4" x2="634.5" y2="545.4" stroke="#c8202a" stroke-width="2.6"/>
<polyline points="526.2,505.1 526.2,497.4 559.1,497.4 559.1,505.1" fill="none" stroke="#000" stroke-width="1.3"/>
<text x="542.65" y="495.83" font-size="6.8" text-anchor="middle" fill="#111">p=0.0008</text>
<polyline points="557.4,482.3 557.4,474.5 590,474.5 590,482.3" fill="none" stroke="#000" stroke-width="1.3"/>
<text x="573.7" y="473.23" font-size="6.8" text-anchor="middle" fill="#111">p&lt;0.0001</text>
<polyline points="590,470.5 590,462.1 622.2,462.1 622.2,470.5" fill="none" stroke="#000" stroke-width="1.3"/>
<text x="606.1" y="460.93" font-size="6.8" text-anchor="middle" fill="#111">p&lt;0.0001</text>
<polyline points="558.4,457.1 558.4,449.7 622.2,449.7 622.2,457.1" fill="none" stroke="#000" stroke-width="1.3"/>
<text x="590.3" y="448.53" font-size="6.8" text-anchor="middle" fill="#111">p=0.0001</text>
<text x="3.5" y="650.63" font-size="13.5" font-weight="bold">K</text>
<text x="122.55" y="658.1" font-size="13.7" font-weight="bold" text-anchor="middle" textLength="33.9" lengthAdjust="spacingAndGlyphs">RPE1</text>
<line x1="47.4" y1="679.1" x2="47.4" y2="803.2" stroke="#000" stroke-width="1.5"/>
<line x1="42.1" y1="678.8" x2="47.4" y2="678.8" stroke="#000" stroke-width="1.5"/>
<text x="40.1" y="682.17" font-size="9.4" font-weight="bold" text-anchor="end">80</text>
<line x1="42.1" y1="709.95" x2="47.4" y2="709.95" stroke="#000" stroke-width="1.5"/>
<text x="40.1" y="713.32" font-size="9.4" font-weight="bold" text-anchor="end">60</text>
<line x1="42.1" y1="741.1" x2="47.4" y2="741.1" stroke="#000" stroke-width="1.5"/>
<text x="40.1" y="744.47" font-size="9.4" font-weight="bold" text-anchor="end">40</text>
<line x1="42.1" y1="772.25" x2="47.4" y2="772.25" stroke="#000" stroke-width="1.5"/>
<text x="40.1" y="775.62" font-size="9.4" font-weight="bold" text-anchor="end">20</text>
<line x1="42.1" y1="803.4" x2="47.4" y2="803.4" stroke="#000" stroke-width="1.5"/>
<text x="40.1" y="806.77" font-size="9.4" font-weight="bold" text-anchor="end">0</text>
<line x1="47.4" y1="803.2" x2="218.7" y2="803.2" stroke="#000" stroke-width="1.45"/>
<line x1="81.6" y1="803.2" x2="81.6" y2="808" stroke="#000" stroke-width="1.45"/>
<text x="81.6" y="819.67" font-size="9.4" font-weight="bold" text-anchor="middle">0</text>
<line x1="133.1" y1="803.2" x2="133.1" y2="808" stroke="#000" stroke-width="1.45"/>
<text x="133.1" y="819.67" font-size="9.4" font-weight="bold" text-anchor="middle">12</text>
<line x1="185" y1="803.2" x2="185" y2="808" stroke="#000" stroke-width="1.45"/>
<text x="185" y="819.67" font-size="9.4" font-weight="bold" text-anchor="middle">24</text>
<text x="127.5" y="835.08" font-size="10" font-weight="bold" text-anchor="middle" textLength="179.4" lengthAdjust="spacingAndGlyphs">Time after dexamethasone release (h)</text>
<text x="20.5" y="748.68" font-size="10" font-weight="bold" text-anchor="middle" textLength="135.6" lengthAdjust="spacingAndGlyphs" transform="rotate(-90 20.5 745.1)">Cells with &gt; 10 BRCA1 foci (%)</text>
<polygon points="81.6,795.8 133.1,788.4 185,795.8 185,796.8 81.6,796.8" fill="#231f20"/>
<line x1="48.2" y1="720.4" x2="218.7" y2="720.4" stroke="#000" stroke-width="2.6" stroke-dasharray="8,4.2"/>
<line x1="81.6" y1="721.8" x2="81.6" y2="739.3" stroke="#000" stroke-width="1.3"/>
<line x1="77.85" y1="721.8" x2="85.35" y2="721.8" stroke="#000" stroke-width="1.3"/>
<line x1="77.85" y1="739.3" x2="85.35" y2="739.3" stroke="#000" stroke-width="1.3"/>
<line x1="133.1" y1="745.6" x2="133.1" y2="757.9" stroke="#000" stroke-width="1.3"/>
<line x1="129.35" y1="745.6" x2="136.85" y2="745.6" stroke="#000" stroke-width="1.3"/>
<line x1="129.35" y1="757.9" x2="136.85" y2="757.9" stroke="#000" stroke-width="1.3"/>
<line x1="185" y1="706.4" x2="185" y2="729.9" stroke="#000" stroke-width="1.3"/>
<line x1="181.25" y1="706.4" x2="188.75" y2="706.4" stroke="#000" stroke-width="1.3"/>
<line x1="181.25" y1="729.9" x2="188.75" y2="729.9" stroke="#000" stroke-width="1.3"/>
<polyline points="81.6,730.9 133.1,750.9 185,719.3" fill="none" stroke="#000" stroke-width="1.3"/>
<circle cx="81.6" cy="720.4" r="2.7" fill="#e8432e"/>
<circle cx="81.6" cy="732.7" r="2.7" fill="#e8432e"/>
<circle cx="79.9" cy="736.9" r="2.7" fill="#e8432e"/>
<circle cx="129.6" cy="747.4" r="2.7" fill="#e8432e"/>
<circle cx="136" cy="748.4" r="2.7" fill="#e8432e"/>
<circle cx="133.1" cy="758.9" r="2.7" fill="#e8432e"/>
<circle cx="185" cy="707.1" r="2.7" fill="#e8432e"/>
<circle cx="185" cy="716.9" r="2.7" fill="#e8432e"/>
<circle cx="185" cy="729.2" r="2.7" fill="#e8432e"/>
<polyline points="76.4,691.3 76.4,685 125.4,685 125.4,691.3" fill="none" stroke="#000" stroke-width="1.3"/>
<text x="100.9" y="682.9" font-size="6.7" text-anchor="middle" fill="#111">p=0.0274</text>
<polyline points="136.6,691.3 136.6,685 185.7,685 185.7,691.3" fill="none" stroke="#000" stroke-width="1.3"/>
<text x="161.15" y="682.9" font-size="6.7" text-anchor="middle" fill="#111">p=0.0099</text>
<text x="232.2" y="649.93" font-size="13.5" font-weight="bold">L</text>
<text x="368.9" y="657.7" font-size="13.7" font-weight="bold" text-anchor="middle" textLength="33.9" lengthAdjust="spacingAndGlyphs">RPE1</text>
<line x1="277.7" y1="664.6" x2="277.7" y2="802.9" stroke="#000" stroke-width="1.5"/>
<line x1="272.4" y1="664.65" x2="277.7" y2="664.65" stroke="#000" stroke-width="1.5"/>
<text x="270.4" y="668.02" font-size="9.4" font-weight="bold" text-anchor="end">100</text>
<line x1="272.4" y1="692.3" x2="277.7" y2="692.3" stroke="#000" stroke-width="1.5"/>
<text x="270.4" y="695.67" font-size="9.4" font-weight="bold" text-anchor="end">80</text>
<line x1="272.4" y1="719.95" x2="277.7" y2="719.95" stroke="#000" stroke-width="1.5"/>
<text x="270.4" y="723.32" font-size="9.4" font-weight="bold" text-anchor="end">60</text>
<line x1="272.4" y1="747.6" x2="277.7" y2="747.6" stroke="#000" stroke-width="1.5"/>
<text x="270.4" y="750.97" font-size="9.4" font-weight="bold" text-anchor="end">40</text>
<line x1="272.4" y1="775.25" x2="277.7" y2="775.25" stroke="#000" stroke-width="1.5"/>
<text x="270.4" y="778.62" font-size="9.4" font-weight="bold" text-anchor="end">20</text>
<line x1="272.4" y1="802.9" x2="277.7" y2="802.9" stroke="#000" stroke-width="1.5"/>
<text x="270.4" y="806.27" font-size="9.4" font-weight="bold" text-anchor="end">0</text>
<line x1="277.7" y1="802.9" x2="442.2" y2="802.9" stroke="#000" stroke-width="1.45"/>
<line x1="310.6" y1="802.9" x2="310.6" y2="807.7" stroke="#000" stroke-width="1.45"/>
<text x="310.6" y="818.07" font-size="9.4" font-weight="bold" text-anchor="middle">0</text>
<line x1="360.3" y1="802.9" x2="360.3" y2="807.7" stroke="#000" stroke-width="1.45"/>
<text x="360.3" y="818.07" font-size="9.4" font-weight="bold" text-anchor="middle">12</text>
<line x1="410.3" y1="802.9" x2="410.3" y2="807.7" stroke="#000" stroke-width="1.45"/>
<text x="410.3" y="818.07" font-size="9.4" font-weight="bold" text-anchor="middle">24</text>
<text x="355.9" y="836.78" font-size="10" font-weight="bold" text-anchor="middle" textLength="186" lengthAdjust="spacingAndGlyphs">Time after dexamethasone release (h)</text>
<text x="246.6" y="736.68" font-size="10" font-weight="bold" text-anchor="middle" textLength="139" lengthAdjust="spacingAndGlyphs" transform="rotate(-90 246.6 733.1)">Cells with &gt; 10 RIF1 foci (%)</text>
<polygon points="308.9,794.9 360.3,787.8 411.3,794.9 411.3,795.9 308.9,795.9" fill="#231f20"/>
<line x1="278.5" y1="715.6" x2="442.2" y2="715.6" stroke="#000" stroke-width="2.6" stroke-dasharray="8,4.2"/>
<line x1="310.6" y1="718" x2="310.6" y2="735.8" stroke="#000" stroke-width="1.3"/>
<line x1="306.85" y1="718" x2="314.35" y2="718" stroke="#000" stroke-width="1.3"/>
<line x1="306.85" y1="735.8" x2="314.35" y2="735.8" stroke="#000" stroke-width="1.3"/>
<line x1="410.3" y1="710.6" x2="410.3" y2="723.4" stroke="#000" stroke-width="1.3"/>
<line x1="406.55" y1="710.6" x2="414.05" y2="710.6" stroke="#000" stroke-width="1.3"/>
<line x1="406.55" y1="723.4" x2="414.05" y2="723.4" stroke="#000" stroke-width="1.3"/>
<polyline points="310.6,725.7 360.3,691.5 410.3,717.3" fill="none" stroke="#000" stroke-width="1.3"/>
<circle cx="311.3" cy="719" r="2.7" fill="#e8432e"/>
<circle cx="307.9" cy="730.1" r="2.7" fill="#e8432e"/>
<circle cx="313.9" cy="729.1" r="2.7" fill="#e8432e"/>
<circle cx="354.2" cy="692.1" r="2.7" fill="#e8432e"/>
<circle cx="360.3" cy="689.8" r="2.7" fill="#e8432e"/>
<circle cx="365" cy="690.4" r="2.7" fill="#e8432e"/>
<circle cx="407.3" cy="720.7" r="2.7" fill="#e8432e"/>
<circle cx="409.6" cy="713.3" r="2.7" fill="#e8432e"/>
<circle cx="414.7" cy="714.6" r="2.7" fill="#e8432e"/>
<polyline points="309.6,677 309.6,670.3 357.6,670.3 357.6,677" fill="none" stroke="#000" stroke-width="1.3"/>
<text x="333.6" y="668.2" font-size="6.7" text-anchor="middle" fill="#111">p=0.0007</text>
<polyline points="361.6,677 361.6,670.3 413,670.3 413,677" fill="none" stroke="#000" stroke-width="1.3"/>
<text x="387.3" y="668.2" font-size="6.7" text-anchor="middle" fill="#111">p=0.0005</text>
<text x="466.8" y="649.93" font-size="13.5" font-weight="bold">M</text>
<text x="602" y="656.7" font-size="13.7" font-weight="bold" text-anchor="middle" textLength="38" lengthAdjust="spacingAndGlyphs">U2OS</text>
<line x1="509.7" y1="672.6" x2="509.7" y2="796.2" stroke="#000" stroke-width="1.5"/>
<line x1="504.4" y1="672.6" x2="509.7" y2="672.6" stroke="#000" stroke-width="1.5"/>
<text x="502.4" y="675.97" font-size="9.4" font-weight="bold" text-anchor="end">80</text>
<line x1="504.4" y1="703.5" x2="509.7" y2="703.5" stroke="#000" stroke-width="1.5"/>
<text x="502.4" y="706.87" font-size="9.4" font-weight="bold" text-anchor="end">60</text>
<line x1="504.4" y1="734.4" x2="509.7" y2="734.4" stroke="#000" stroke-width="1.5"/>
<text x="502.4" y="737.77" font-size="9.4" font-weight="bold" text-anchor="end">40</text>
<line x1="504.4" y1="765.3" x2="509.7" y2="765.3" stroke="#000" stroke-width="1.5"/>
<text x="502.4" y="768.67" font-size="9.4" font-weight="bold" text-anchor="end">20</text>
<line x1="504.4" y1="796.2" x2="509.7" y2="796.2" stroke="#000" stroke-width="1.5"/>
<text x="502.4" y="799.57" font-size="9.4" font-weight="bold" text-anchor="end">0</text>
<line x1="509.7" y1="796.2" x2="679.3" y2="796.2" stroke="#000" stroke-width="1.45"/>
<line x1="537.9" y1="796.2" x2="537.9" y2="801" stroke="#000" stroke-width="1.45"/>
<text x="537.9" y="813.07" font-size="9.4" font-weight="bold" text-anchor="middle">0</text>
<line x1="595.4" y1="796.2" x2="595.4" y2="801" stroke="#000" stroke-width="1.45"/>
<text x="595.4" y="813.07" font-size="9.4" font-weight="bold" text-anchor="middle">12</text>
<line x1="652.4" y1="796.2" x2="652.4" y2="801" stroke="#000" stroke-width="1.45"/>
<text x="652.4" y="813.07" font-size="9.4" font-weight="bold" text-anchor="middle">24</text>
<text x="580.45" y="828.98" font-size="10" font-weight="bold" text-anchor="middle" textLength="176.9" lengthAdjust="spacingAndGlyphs">Time after dexamethasone release(h)</text>
<text x="482.2" y="738.28" font-size="10" font-weight="bold" text-anchor="middle" textLength="102.9" lengthAdjust="spacingAndGlyphs" transform="rotate(-90 482.2 734.7)">Cells with RAD51 foci</text>
<polygon points="539,789.9 595.4,782.8 649.8,789.9 649.8,790.9 539,790.9" fill="#231f20"/>
<line x1="510.5" y1="729.1" x2="680" y2="729.1" stroke="#000" stroke-width="2.6" stroke-dasharray="8,4.2"/>
<line x1="537.9" y1="705.9" x2="537.9" y2="731.4" stroke="#000" stroke-width="1.3"/>
<line x1="534.15" y1="705.9" x2="541.65" y2="705.9" stroke="#000" stroke-width="1.3"/>
<line x1="534.15" y1="731.4" x2="541.65" y2="731.4" stroke="#000" stroke-width="1.3"/>
<line x1="595.4" y1="723.4" x2="595.4" y2="756.9" stroke="#000" stroke-width="1.3"/>
<line x1="591.65" y1="723.4" x2="599.15" y2="723.4" stroke="#000" stroke-width="1.3"/>
<line x1="591.65" y1="756.9" x2="599.15" y2="756.9" stroke="#000" stroke-width="1.3"/>
<line x1="652.4" y1="687.1" x2="652.4" y2="734.1" stroke="#000" stroke-width="1.3"/>
<line x1="648.65" y1="687.1" x2="656.15" y2="687.1" stroke="#000" stroke-width="1.3"/>
<line x1="648.65" y1="734.1" x2="656.15" y2="734.1" stroke="#000" stroke-width="1.3"/>
<polyline points="537.9,719 595.4,742.5 652.4,707.9" fill="none" stroke="#000" stroke-width="1.3"/>
<circle cx="537.9" cy="705.6" r="2.7" fill="#e8432e"/>
<circle cx="537.9" cy="718" r="2.7" fill="#e8432e"/>
<circle cx="537.9" cy="731.4" r="2.7" fill="#e8432e"/>
<circle cx="595.4" cy="727.4" r="2.7" fill="#e8432e"/>
<circle cx="595.4" cy="734.8" r="2.7" fill="#e8432e"/>
<circle cx="595.4" cy="759.3" r="2.7" fill="#e8432e"/>
<circle cx="652.4" cy="692.8" r="2.7" fill="#e8432e"/>
<circle cx="652.4" cy="702.2" r="2.7" fill="#e8432e"/>
<circle cx="652.4" cy="736.8" r="2.7" fill="#e8432e"/>
<polyline points="539.6,683.7 539.6,677 590,677 590,683.7" fill="none" stroke="#000" stroke-width="1.3"/>
<text x="564.8" y="674.9" font-size="6.7" text-anchor="middle" fill="#111">p=0.0251</text>
<polyline points="600,683.7 600,677 649.8,677 649.8,683.7" fill="none" stroke="#000" stroke-width="1.3"/>
<text x="624.9" y="674.9" font-size="6.7" text-anchor="middle" fill="#111">p=0.0168</text>
</svg>
</body></html>
